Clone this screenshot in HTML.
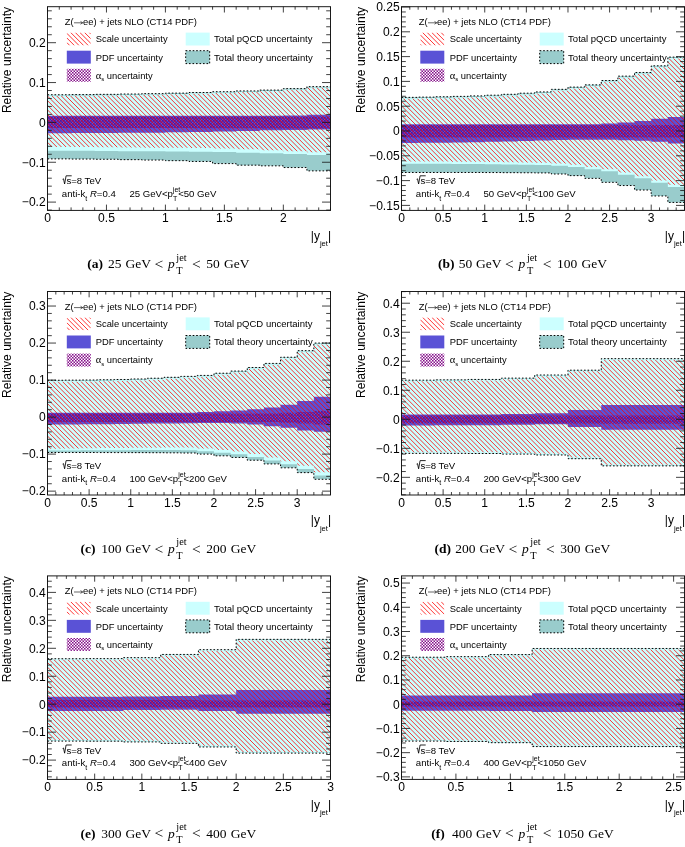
<!DOCTYPE html>
<html><head><meta charset="utf-8"><title>Figure</title>
<style>html,body{margin:0;padding:0;background:#fff}svg{display:block;will-change:transform}text{font-family:"Liberation Sans", sans-serif;fill:#000}.s{font-family:"Liberation Serif", serif}</style>
</head><body>
<svg width="685" height="847" viewBox="0 0 685 847">
<defs>
<pattern id="hr" patternUnits="userSpaceOnUse" width="4.630" height="4.630"><path d="M-4.630,-4.630 L9.260,9.260 M0,-4.630 L9.260,4.630 M-4.630,0 L4.630,9.260" stroke="#ff0000" stroke-width="1.1" stroke-opacity="0.95" fill="none"/></pattern>
<pattern id="ha" patternUnits="userSpaceOnUse" width="3.00" height="3.00"><path d="M0,0h1.55v1.55h-1.55z M1.50,1.50h1.55v1.55h-1.55z" fill="#85108a"/></pattern>
<pattern id="hb" patternUnits="userSpaceOnUse" width="3.00" height="3.00"><path d="M0,0h1.72v1.72h-1.72z M1.50,1.50h1.72v1.72h-1.72z" fill="#5c1096"/></pattern>
</defs>
<rect width="685" height="847" fill="#fff"/>
<g>
<path d="M47.50,94.78 L71.08,94.78 L71.08,94.58 L94.67,94.58 L94.67,94.35 L118.25,94.35 L118.25,94.03 L141.83,94.03 L141.83,93.63 L165.42,93.63 L165.42,93.11 L189.00,93.11 L189.00,92.51 L212.58,92.51 L212.58,91.72 L236.17,91.72 L236.17,90.92 L259.75,90.92 L259.75,90.08 L283.33,90.08 L283.33,88.61 L306.92,88.61 L306.92,86.65 L330.50,86.65 L330.50,170.86 L306.92,170.86 L306.92,167.55 L283.33,167.55 L283.33,165.84 L259.75,165.84 L259.75,165.16 L236.17,165.16 L236.17,163.60 L212.58,163.60 L212.58,161.45 L189.00,161.45 L189.00,160.66 L165.42,160.66 L165.42,160.06 L141.83,160.06 L141.83,159.66 L118.25,159.66 L118.25,159.26 L94.67,159.26 L94.67,159.06 L71.08,159.06 L71.08,158.86 L47.50,158.86Z" fill="#99cccc"/>
<path d="M47.50,95.58 L71.08,95.58 L71.08,95.38 L94.67,95.38 L94.67,95.14 L118.25,95.14 L118.25,94.82 L141.83,94.82 L141.83,94.43 L165.42,94.43 L165.42,93.91 L189.00,93.91 L189.00,93.31 L212.58,93.31 L212.58,92.51 L236.17,92.51 L236.17,91.72 L259.75,91.72 L259.75,90.88 L283.33,90.88 L283.33,89.40 L306.92,89.40 L306.92,87.45 L330.50,87.45 L330.50,154.88 L306.92,154.88 L306.92,154.08 L283.33,154.08 L283.33,153.28 L259.75,153.28 L259.75,152.69 L236.17,152.69 L236.17,152.09 L212.58,152.09 L212.58,151.69 L189.00,151.69 L189.00,151.49 L165.42,151.49 L165.42,151.37 L141.83,151.37 L141.83,151.17 L118.25,151.17 L118.25,151.01 L94.67,151.01 L94.67,150.85 L71.08,150.85 L71.08,150.69 L47.50,150.69Z" fill="#ccffff"/>
<path d="M47.50,115.78 L71.08,115.78 L71.08,115.78 L94.67,115.78 L94.67,115.78 L118.25,115.78 L118.25,115.78 L141.83,115.78 L141.83,115.78 L165.42,115.78 L165.42,115.78 L189.00,115.78 L189.00,115.78 L212.58,115.78 L212.58,115.78 L236.17,115.78 L236.17,115.78 L259.75,115.78 L259.75,115.78 L283.33,115.78 L283.33,115.43 L306.92,115.43 L306.92,114.83 L330.50,114.83 L330.50,129.57 L306.92,129.57 L306.92,129.97 L283.33,129.97 L283.33,130.37 L259.75,130.37 L259.75,130.97 L236.17,130.97 L236.17,131.57 L212.58,131.57 L212.58,131.96 L189.00,131.96 L189.00,132.36 L165.42,132.36 L165.42,132.68 L141.83,132.68 L141.83,132.84 L118.25,132.84 L118.25,132.96 L94.67,132.96 L94.67,133.08 L71.08,133.08 L71.08,133.16 L47.50,133.16Z" fill="#5a52d6"/>
<path d="M47.50,116.42 L71.08,116.42 L71.08,116.42 L94.67,116.42 L94.67,116.42 L118.25,116.42 L118.25,116.42 L141.83,116.42 L141.83,116.42 L165.42,116.42 L165.42,116.42 L189.00,116.42 L189.00,116.42 L212.58,116.42 L212.58,116.42 L236.17,116.42 L236.17,116.42 L259.75,116.42 L259.75,116.42 L283.33,116.42 L283.33,116.42 L306.92,116.42 L306.92,116.42 L330.50,116.42 L330.50,128.38 L306.92,128.38 L306.92,128.38 L283.33,128.38 L283.33,128.38 L259.75,128.38 L259.75,128.18 L236.17,128.18 L236.17,128.18 L212.58,128.18 L212.58,128.18 L189.00,128.18 L189.00,127.98 L165.42,127.98 L165.42,127.98 L141.83,127.98 L141.83,127.98 L118.25,127.98 L118.25,127.98 L94.67,127.98 L94.67,127.98 L71.08,127.98 L71.08,127.98 L47.50,127.98Z" fill="url(#hb)"/>
<clipPath id="cs0"><path d="M47.50,95.98 L71.08,95.98 L71.08,95.78 L94.67,95.78 L94.67,95.54 L118.25,95.54 L118.25,95.22 L141.83,95.22 L141.83,94.82 L165.42,94.82 L165.42,94.31 L189.00,94.31 L189.00,93.71 L212.58,93.71 L212.58,92.91 L236.17,92.91 L236.17,92.11 L259.75,92.11 L259.75,91.28 L283.33,91.28 L283.33,89.80 L306.92,89.80 L306.92,87.85 L330.50,87.85 L330.50,152.17 L306.92,152.17 L306.92,151.29 L283.33,151.29 L283.33,150.30 L259.75,150.30 L259.75,149.30 L236.17,149.30 L236.17,148.50 L212.58,148.50 L212.58,147.90 L189.00,147.90 L189.00,147.78 L165.42,147.78 L165.42,147.70 L141.83,147.70 L141.83,147.51 L118.25,147.51 L118.25,147.31 L94.67,147.31 L94.67,147.11 L71.08,147.11 L71.08,146.91 L47.50,146.91Z"/></clipPath>
<path clip-path="url(#cs0)" d="M47.50,151.57L49.10,153.17M47.50,146.94L53.73,153.17M47.50,142.31L58.36,153.17M47.50,137.68L62.99,153.17M47.50,133.05L67.62,153.17M47.50,128.42L72.25,153.17M47.50,123.79L76.88,153.17M47.50,119.16L81.51,153.17M47.50,114.53L86.14,153.17M47.50,109.90L90.77,153.17M47.50,105.27L95.40,153.17M47.50,100.64L100.03,153.17M47.50,96.01L104.66,153.17M47.50,91.38L109.29,153.17M47.60,86.85L113.92,153.17M52.23,86.85L118.55,153.17M56.86,86.85L123.18,153.17M61.49,86.85L127.81,153.17M66.12,86.85L132.44,153.17M70.75,86.85L137.07,153.17M75.38,86.85L141.70,153.17M80.01,86.85L146.33,153.17M84.64,86.85L150.96,153.17M89.27,86.85L155.59,153.17M93.90,86.85L160.22,153.17M98.53,86.85L164.85,153.17M103.16,86.85L169.48,153.17M107.79,86.85L174.11,153.17M112.42,86.85L178.74,153.17M117.05,86.85L183.37,153.17M121.68,86.85L188.00,153.17M126.31,86.85L192.63,153.17M130.94,86.85L197.26,153.17M135.57,86.85L201.89,153.17M140.20,86.85L206.52,153.17M144.83,86.85L211.15,153.17M149.46,86.85L215.78,153.17M154.09,86.85L220.41,153.17M158.72,86.85L225.04,153.17M163.35,86.85L229.67,153.17M167.98,86.85L234.30,153.17M172.61,86.85L238.93,153.17M177.24,86.85L243.56,153.17M181.87,86.85L248.19,153.17M186.50,86.85L252.82,153.17M191.13,86.85L257.45,153.17M195.76,86.85L262.08,153.17M200.39,86.85L266.71,153.17M205.02,86.85L271.34,153.17M209.65,86.85L275.97,153.17M214.28,86.85L280.60,153.17M218.91,86.85L285.23,153.17M223.54,86.85L289.86,153.17M228.17,86.85L294.49,153.17M232.80,86.85L299.12,153.17M237.43,86.85L303.75,153.17M242.06,86.85L308.38,153.17M246.69,86.85L313.01,153.17M251.32,86.85L317.64,153.17M255.95,86.85L322.27,153.17M260.58,86.85L326.90,153.17M265.21,86.85L330.50,152.14M269.84,86.85L330.50,147.51M274.47,86.85L330.50,142.88M279.10,86.85L330.50,138.25M283.73,86.85L330.50,133.62M288.36,86.85L330.50,128.99M292.99,86.85L330.50,124.36M297.62,86.85L330.50,119.73M302.25,86.85L330.50,115.10M306.88,86.85L330.50,110.47M311.51,86.85L330.50,105.84M316.14,86.85L330.50,101.21M320.77,86.85L330.50,96.58M325.40,86.85L330.50,91.95M330.03,86.85L330.50,87.32" stroke="#ff0000" stroke-width="0.95" stroke-opacity="0.84" fill="none"/>
<path d="M47.50,94.78 L71.08,94.78 L71.08,94.58 L94.67,94.58 L94.67,94.35 L118.25,94.35 L118.25,94.03 L141.83,94.03 L141.83,93.63 L165.42,93.63 L165.42,93.11 L189.00,93.11 L189.00,92.51 L212.58,92.51 L212.58,91.72 L236.17,91.72 L236.17,90.92 L259.75,90.92 L259.75,90.08 L283.33,90.08 L283.33,88.61 L306.92,88.61 L306.92,86.65 L330.50,86.65" stroke="#000" stroke-width="1" stroke-dasharray="1.6 1.9" fill="none"/>
<path d="M47.50,158.86 L71.08,158.86 L71.08,159.06 L94.67,159.06 L94.67,159.26 L118.25,159.26 L118.25,159.66 L141.83,159.66 L141.83,160.06 L165.42,160.06 L165.42,160.66 L189.00,160.66 L189.00,161.45 L212.58,161.45 L212.58,163.60 L236.17,163.60 L236.17,165.16 L259.75,165.16 L259.75,165.84 L283.33,165.84 L283.33,167.55 L306.92,167.55 L306.92,170.86 L330.50,170.86" stroke="#000" stroke-width="1" stroke-dasharray="1.6 1.9" fill="none"/>
<path d="M47.50,210.40 v-5.80 M47.50,6.70 v5.80 M59.29,210.40 v-3.00 M59.29,6.70 v3.00 M71.08,210.40 v-3.00 M71.08,6.70 v3.00 M82.88,210.40 v-3.00 M82.88,6.70 v3.00 M94.67,210.40 v-3.00 M94.67,6.70 v3.00 M106.46,210.40 v-5.80 M106.46,6.70 v5.80 M118.25,210.40 v-3.00 M118.25,6.70 v3.00 M130.04,210.40 v-3.00 M130.04,6.70 v3.00 M141.83,210.40 v-3.00 M141.83,6.70 v3.00 M153.62,210.40 v-3.00 M153.62,6.70 v3.00 M165.42,210.40 v-5.80 M165.42,6.70 v5.80 M177.21,210.40 v-3.00 M177.21,6.70 v3.00 M189.00,210.40 v-3.00 M189.00,6.70 v3.00 M200.79,210.40 v-3.00 M200.79,6.70 v3.00 M212.58,210.40 v-3.00 M212.58,6.70 v3.00 M224.38,210.40 v-5.80 M224.38,6.70 v5.80 M236.17,210.40 v-3.00 M236.17,6.70 v3.00 M247.96,210.40 v-3.00 M247.96,6.70 v3.00 M259.75,210.40 v-3.00 M259.75,6.70 v3.00 M271.54,210.40 v-3.00 M271.54,6.70 v3.00 M283.33,210.40 v-5.80 M283.33,6.70 v5.80 M295.12,210.40 v-3.00 M295.12,6.70 v3.00 M306.92,210.40 v-3.00 M306.92,6.70 v3.00 M318.71,210.40 v-3.00 M318.71,6.70 v3.00 M330.50,210.40 v-3.00 M330.50,6.70 v3.00 M47.50,210.07 h4.30 M330.50,210.07 h-4.30 M47.50,202.10 h8.50 M330.50,202.10 h-8.50 M47.50,194.13 h4.30 M330.50,194.13 h-4.30 M47.50,186.16 h4.30 M330.50,186.16 h-4.30 M47.50,178.19 h4.30 M330.50,178.19 h-4.30 M47.50,170.22 h4.30 M330.50,170.22 h-4.30 M47.50,162.25 h8.50 M330.50,162.25 h-8.50 M47.50,154.28 h4.30 M330.50,154.28 h-4.30 M47.50,146.31 h4.30 M330.50,146.31 h-4.30 M47.50,138.34 h4.30 M330.50,138.34 h-4.30 M47.50,130.37 h4.30 M330.50,130.37 h-4.30 M47.50,122.40 h8.50 M330.50,122.40 h-8.50 M47.50,114.43 h4.30 M330.50,114.43 h-4.30 M47.50,106.46 h4.30 M330.50,106.46 h-4.30 M47.50,98.49 h4.30 M330.50,98.49 h-4.30 M47.50,90.52 h4.30 M330.50,90.52 h-4.30 M47.50,82.55 h8.50 M330.50,82.55 h-8.50 M47.50,74.58 h4.30 M330.50,74.58 h-4.30 M47.50,66.61 h4.30 M330.50,66.61 h-4.30 M47.50,58.64 h4.30 M330.50,58.64 h-4.30 M47.50,50.67 h4.30 M330.50,50.67 h-4.30 M47.50,42.70 h8.50 M330.50,42.70 h-8.50 M47.50,34.73 h4.30 M330.50,34.73 h-4.30 M47.50,26.76 h4.30 M330.50,26.76 h-4.30 M47.50,18.79 h4.30 M330.50,18.79 h-4.30 M47.50,10.82 h4.30 M330.50,10.82 h-4.30" stroke="#111" stroke-width="0.8" fill="none"/>
<rect x="47.50" y="6.70" width="283.00" height="203.70" fill="none" stroke="#111" stroke-width="0.95"/>
<text x="45.70" y="47.00" font-size="12.1" text-anchor="end">0.2</text>
<text x="45.70" y="86.85" font-size="12.1" text-anchor="end">0.1</text>
<text x="45.70" y="126.70" font-size="12.1" text-anchor="end">0</text>
<text x="45.70" y="166.55" font-size="12.1" text-anchor="end">−0.1</text>
<text x="45.70" y="206.40" font-size="12.1" text-anchor="end">−0.2</text>
<text x="47.50" y="222.05" font-size="12.1" text-anchor="middle">0</text>
<text x="106.46" y="222.05" font-size="12.1" text-anchor="middle">0.5</text>
<text x="165.42" y="222.05" font-size="12.1" text-anchor="middle">1</text>
<text x="224.38" y="222.05" font-size="12.1" text-anchor="middle">1.5</text>
<text x="283.33" y="222.05" font-size="12.1" text-anchor="middle">2</text>
<text transform="translate(10.50,6.90) rotate(-90)" font-size="12.1" text-anchor="end">Relative uncertainty</text>
<text x="331.10" y="239.70" font-size="12" text-anchor="end">|y<tspan font-size="7.6" dy="6.6">jet</tspan><tspan dy="-6.6">|</tspan></text>
<text x="64.80" y="25.10" font-size="9.4">Z(</text>
<text x="83.10" y="25.10" font-size="9.4">ee) + jets NLO (CT14 PDF)</text>
<path d="M74.00,22.80 H82.70 M80.50,21.40 L82.70,22.80 L80.50,24.20" stroke="#000" stroke-width="0.6" fill="none"/>
<clipPath id="cl0"><rect x="66.80" y="32.60" width="24.00" height="12.90"/></clipPath>
<path clip-path="url(#cl0)" d="M66.80,42.54L69.76,45.50M66.80,37.91L74.39,45.50M66.80,33.28L79.02,45.50M70.75,32.60L83.65,45.50M75.38,32.60L88.28,45.50M80.01,32.60L90.80,43.39M84.64,32.60L90.80,38.76M89.27,32.60L90.80,34.13" stroke="#ff0000" stroke-width="0.95" stroke-opacity="0.84" fill="none"/>
<rect x="66.80" y="50.70" width="24.00" height="12.90" fill="#5a52d6"/>
<rect x="66.80" y="68.80" width="24.00" height="12.90" fill="url(#ha)"/>
<text x="95.70" y="42.40" font-size="9.4">Scale uncertainty</text>
<text x="95.70" y="60.50" font-size="9.4">PDF uncertainty</text>
<text x="95.70" y="78.60" font-size="9.4"><tspan class="s" font-size="10.5">α</tspan><tspan font-size="6" dy="2.2">s</tspan><tspan dy="-2.2"> uncertainty</tspan></text>
<rect x="185.70" y="32.60" width="24.00" height="12.90" fill="#ccffff"/>
<rect x="185.70" y="50.70" width="24.00" height="12.90" fill="#99cccc" stroke="#000" stroke-width="1" stroke-dasharray="1.6 1.9" />
<text x="214.10" y="42.40" font-size="9.4" textLength="98.3" lengthAdjust="spacingAndGlyphs">Total pQCD uncertainty</text>
<text x="214.10" y="60.50" font-size="9.4" textLength="98.6" lengthAdjust="spacingAndGlyphs">Total theory uncertainty</text>
<path d="M62.60,179.30 l0.9,-0.5 l1.1,5.2 l1.5,-8.2 h5.6" stroke="#000" stroke-width="0.85" fill="none"/>
<text x="66.40" y="184.30" font-size="9.6">s=8 TeV</text>
<text x="61.80" y="197.10" font-size="9.6">anti-k<tspan font-size="7" dy="3.4">t</tspan><tspan dy="-3.4"> </tspan><tspan font-style="italic">R</tspan>=0.4</text>
<text x="129.40" y="197.10" font-size="9.6">25 GeV&lt;p<tspan font-size="7" dy="3.6">T</tspan><tspan font-size="7" dy="-8.8" dx="-4.3">jet</tspan><tspan dy="5.2" dx="-2.1">&lt;50 GeV</tspan></text>
<text class="s" x="87.30" y="268.30" font-size="13.50" font-weight="bold">(a)</text>
<text class="s" x="108.10" y="268.30" font-size="13.50" >25</text>
<text class="s" x="125.40" y="268.30" font-size="13.50" >GeV</text>
<text class="s" x="154.50" y="268.90" font-size="15.50" >&lt;</text>
<text class="s" x="167.90" y="268.30" font-size="13.50" font-style="italic">p</text>
<text class="s" x="176.30" y="273.80" font-size="10.30" >T</text>
<text class="s" x="176.30" y="260.50" font-size="10.30" >jet</text>
<text class="s" x="192.10" y="268.90" font-size="15.50" >&lt;</text>
<text class="s" x="206.30" y="268.30" font-size="13.50" >50</text>
<text class="s" x="224.10" y="268.30" font-size="13.50" >GeV</text>
</g>
<g>
<path d="M401.50,97.37 L418.15,97.37 L418.15,97.12 L434.79,97.12 L434.79,96.78 L451.44,96.78 L451.44,96.38 L468.09,96.38 L468.09,95.88 L484.74,95.88 L484.74,95.19 L501.38,95.19 L501.38,94.30 L518.03,94.30 L518.03,93.20 L534.68,93.20 L534.68,91.92 L551.32,91.92 L551.32,89.34 L567.97,89.34 L567.97,87.10 L584.62,87.10 L584.62,84.87 L601.26,84.87 L601.26,80.51 L617.91,80.51 L617.91,76.14 L634.56,76.14 L634.56,72.47 L651.21,72.47 L651.21,65.83 L667.85,65.83 L667.85,57.10 L684.50,57.10 L684.50,202.42 L667.85,202.42 L667.85,195.98 L651.21,195.98 L651.21,190.02 L634.56,190.02 L634.56,185.56 L617.91,185.56 L617.91,182.34 L601.26,182.34 L601.26,178.37 L584.62,178.37 L584.62,175.64 L567.97,175.64 L567.97,174.00 L551.32,174.00 L551.32,172.91 L534.68,172.91 L534.68,172.76 L518.03,172.76 L518.03,172.66 L501.38,172.66 L501.38,172.56 L484.74,172.56 L484.74,172.47 L468.09,172.47 L468.09,172.47 L451.44,172.47 L451.44,172.47 L434.79,172.47 L434.79,172.47 L418.15,172.47 L418.15,172.47 L401.50,172.47Z" fill="#99cccc"/>
<path d="M401.50,98.36 L418.15,98.36 L418.15,98.12 L434.79,98.12 L434.79,97.77 L451.44,97.77 L451.44,97.37 L468.09,97.37 L468.09,96.88 L484.74,96.88 L484.74,96.18 L501.38,96.18 L501.38,95.29 L518.03,95.29 L518.03,94.20 L534.68,94.20 L534.68,92.91 L551.32,92.91 L551.32,90.33 L567.97,90.33 L567.97,88.10 L584.62,88.10 L584.62,85.86 L601.26,85.86 L601.26,81.50 L617.91,81.50 L617.91,77.13 L634.56,77.13 L634.56,73.46 L651.21,73.46 L651.21,66.82 L667.85,66.82 L667.85,58.09 L684.50,58.09 L684.50,187.05 L667.85,187.05 L667.85,182.78 L651.21,182.78 L651.21,178.37 L634.56,178.37 L634.56,174.65 L617.91,174.65 L617.91,171.37 L601.26,171.37 L601.26,169.19 L584.62,169.19 L584.62,167.01 L567.97,167.01 L567.97,165.72 L551.32,165.72 L551.32,164.98 L534.68,164.98 L534.68,164.63 L518.03,164.63 L518.03,164.43 L501.38,164.43 L501.38,164.23 L484.74,164.23 L484.74,164.08 L468.09,164.08 L468.09,163.93 L451.44,163.93 L451.44,163.84 L434.79,163.84 L434.79,163.74 L418.15,163.74 L418.15,163.74 L401.50,163.74Z" fill="#ccffff"/>
<path d="M401.50,124.30 L418.15,124.30 L418.15,124.30 L434.79,124.30 L434.79,124.30 L451.44,124.30 L451.44,124.30 L468.09,124.30 L468.09,124.30 L484.74,124.30 L484.74,124.30 L501.38,124.30 L501.38,124.30 L518.03,124.30 L518.03,124.30 L534.68,124.30 L534.68,124.30 L551.32,124.30 L551.32,124.30 L567.97,124.30 L567.97,124.30 L584.62,124.30 L584.62,124.30 L601.26,124.30 L601.26,123.56 L617.91,123.56 L617.91,122.57 L634.56,122.57 L634.56,121.08 L651.21,121.08 L651.21,118.80 L667.85,118.80 L667.85,117.11 L684.50,117.11 L684.50,143.40 L667.85,143.40 L667.85,141.81 L651.21,141.81 L651.21,140.72 L634.56,140.72 L634.56,140.18 L617.91,140.18 L617.91,139.73 L601.26,139.73 L601.26,139.63 L584.62,139.63 L584.62,139.73 L567.97,139.73 L567.97,140.03 L551.32,140.03 L551.32,140.42 L534.68,140.42 L534.68,140.92 L518.03,140.92 L518.03,141.42 L501.38,141.42 L501.38,141.81 L484.74,141.81 L484.74,142.16 L468.09,142.16 L468.09,142.41 L451.44,142.41 L451.44,142.66 L434.79,142.66 L434.79,142.80 L418.15,142.80 L418.15,142.90 L401.50,142.90Z" fill="#5a52d6"/>
<path d="M401.50,125.05 L418.15,125.05 L418.15,125.05 L434.79,125.05 L434.79,125.05 L451.44,125.05 L451.44,125.05 L468.09,125.05 L468.09,125.05 L484.74,125.05 L484.74,125.05 L501.38,125.05 L501.38,125.05 L518.03,125.05 L518.03,125.05 L534.68,125.05 L534.68,125.05 L551.32,125.05 L551.32,125.05 L567.97,125.05 L567.97,125.05 L584.62,125.05 L584.62,125.05 L601.26,125.05 L601.26,125.05 L617.91,125.05 L617.91,125.05 L634.56,125.05 L634.56,125.05 L651.21,125.05 L651.21,125.05 L667.85,125.05 L667.85,125.05 L684.50,125.05 L684.50,137.45 L667.85,137.45 L667.85,137.45 L651.21,137.45 L651.21,137.45 L634.56,137.45 L634.56,137.45 L617.91,137.45 L617.91,137.45 L601.26,137.45 L601.26,137.45 L584.62,137.45 L584.62,137.45 L567.97,137.45 L567.97,137.45 L551.32,137.45 L551.32,137.45 L534.68,137.45 L534.68,137.45 L518.03,137.45 L518.03,137.45 L501.38,137.45 L501.38,137.45 L484.74,137.45 L484.74,137.45 L468.09,137.45 L468.09,137.45 L451.44,137.45 L451.44,137.45 L434.79,137.45 L434.79,137.45 L418.15,137.45 L418.15,137.45 L401.50,137.45Z" fill="url(#hb)"/>
<clipPath id="cs1"><path d="M401.50,98.86 L418.15,98.86 L418.15,98.61 L434.79,98.61 L434.79,98.26 L451.44,98.26 L451.44,97.87 L468.09,97.87 L468.09,97.37 L484.74,97.37 L484.74,96.68 L501.38,96.68 L501.38,95.78 L518.03,95.78 L518.03,94.69 L534.68,94.69 L534.68,93.40 L551.32,93.40 L551.32,90.82 L567.97,90.82 L567.97,88.59 L584.62,88.59 L584.62,86.36 L601.26,86.36 L601.26,82.00 L617.91,82.00 L617.91,77.63 L634.56,77.63 L634.56,73.96 L651.21,73.96 L651.21,67.31 L667.85,67.31 L667.85,58.58 L684.50,58.58 L684.50,184.82 L667.85,184.82 L667.85,180.55 L651.21,180.55 L651.21,176.14 L634.56,176.14 L634.56,172.42 L617.91,172.42 L617.91,169.14 L601.26,169.14 L601.26,166.96 L584.62,166.96 L584.62,164.78 L567.97,164.78 L567.97,163.49 L551.32,163.49 L551.32,162.74 L534.68,162.74 L534.68,162.40 L518.03,162.40 L518.03,162.20 L501.38,162.20 L501.38,162.00 L484.74,162.00 L484.74,161.85 L468.09,161.85 L468.09,161.70 L451.44,161.70 L451.44,161.60 L434.79,161.60 L434.79,161.50 L418.15,161.50 L418.15,161.50 L401.50,161.50Z"/></clipPath>
<path clip-path="url(#cs1)" d="M401.50,184.61L402.70,185.82M401.50,179.98L407.33,185.82M401.50,175.35L411.96,185.82M401.50,170.72L416.59,185.82M401.50,166.09L421.22,185.82M401.50,161.46L425.85,185.82M401.50,156.83L430.48,185.82M401.50,152.20L435.11,185.82M401.50,147.57L439.74,185.82M401.50,142.94L444.37,185.82M401.50,138.31L449.00,185.82M401.50,133.68L453.63,185.82M401.50,129.05L458.26,185.82M401.50,124.42L462.89,185.82M401.50,119.79L467.52,185.82M401.50,115.16L472.15,185.82M401.50,110.53L476.78,185.82M401.50,105.90L481.41,185.82M401.50,101.27L486.04,185.82M401.50,96.64L490.67,185.82M401.50,92.01L495.30,185.82M401.50,87.38L499.93,185.82M401.50,82.75L504.56,185.82M401.50,78.12L509.19,185.82M401.50,73.49L513.82,185.82M401.50,68.86L518.45,185.82M401.50,64.23L523.08,185.82M401.50,59.60L527.71,185.82M404.11,57.58L532.34,185.82M408.74,57.58L536.97,185.82M413.37,57.58L541.60,185.82M418.00,57.58L546.23,185.82M422.63,57.58L550.86,185.82M427.26,57.58L555.49,185.82M431.89,57.58L560.12,185.82M436.52,57.58L564.75,185.82M441.15,57.58L569.38,185.82M445.78,57.58L574.01,185.82M450.41,57.58L578.64,185.82M455.04,57.58L583.27,185.82M459.67,57.58L587.90,185.82M464.30,57.58L592.53,185.82M468.93,57.58L597.16,185.82M473.56,57.58L601.79,185.82M478.19,57.58L606.42,185.82M482.82,57.58L611.05,185.82M487.45,57.58L615.68,185.82M492.08,57.58L620.31,185.82M496.71,57.58L624.94,185.82M501.34,57.58L629.57,185.82M505.97,57.58L634.20,185.82M510.60,57.58L638.83,185.82M515.23,57.58L643.46,185.82M519.86,57.58L648.09,185.82M524.49,57.58L652.72,185.82M529.12,57.58L657.35,185.82M533.75,57.58L661.98,185.82M538.38,57.58L666.61,185.82M543.01,57.58L671.24,185.82M547.64,57.58L675.87,185.82M552.27,57.58L680.50,185.82M556.90,57.58L684.50,185.18M561.53,57.58L684.50,180.55M566.16,57.58L684.50,175.92M570.79,57.58L684.50,171.29M575.42,57.58L684.50,166.66M580.05,57.58L684.50,162.03M584.68,57.58L684.50,157.40M589.31,57.58L684.50,152.77M593.94,57.58L684.50,148.14M598.57,57.58L684.50,143.51M603.20,57.58L684.50,138.88M607.83,57.58L684.50,134.25M612.46,57.58L684.50,129.62M617.09,57.58L684.50,124.99M621.72,57.58L684.50,120.36M626.35,57.58L684.50,115.73M630.98,57.58L684.50,111.10M635.61,57.58L684.50,106.47M640.24,57.58L684.50,101.84M644.87,57.58L684.50,97.21M649.50,57.58L684.50,92.58M654.13,57.58L684.50,87.95M658.76,57.58L684.50,83.32M663.39,57.58L684.50,78.69M668.02,57.58L684.50,74.06M672.65,57.58L684.50,69.43M677.28,57.58L684.50,64.80M681.91,57.58L684.50,60.17" stroke="#ff0000" stroke-width="0.95" stroke-opacity="0.84" fill="none"/>
<path d="M401.50,97.37 L418.15,97.37 L418.15,97.12 L434.79,97.12 L434.79,96.78 L451.44,96.78 L451.44,96.38 L468.09,96.38 L468.09,95.88 L484.74,95.88 L484.74,95.19 L501.38,95.19 L501.38,94.30 L518.03,94.30 L518.03,93.20 L534.68,93.20 L534.68,91.92 L551.32,91.92 L551.32,89.34 L567.97,89.34 L567.97,87.10 L584.62,87.10 L584.62,84.87 L601.26,84.87 L601.26,80.51 L617.91,80.51 L617.91,76.14 L634.56,76.14 L634.56,72.47 L651.21,72.47 L651.21,65.83 L667.85,65.83 L667.85,57.10 L684.50,57.10" stroke="#000" stroke-width="1" stroke-dasharray="1.6 1.9" fill="none"/>
<path d="M401.50,172.47 L418.15,172.47 L418.15,172.47 L434.79,172.47 L434.79,172.47 L451.44,172.47 L451.44,172.47 L468.09,172.47 L468.09,172.47 L484.74,172.47 L484.74,172.56 L501.38,172.56 L501.38,172.66 L518.03,172.66 L518.03,172.76 L534.68,172.76 L534.68,172.91 L551.32,172.91 L551.32,174.00 L567.97,174.00 L567.97,175.64 L584.62,175.64 L584.62,178.37 L601.26,178.37 L601.26,182.34 L617.91,182.34 L617.91,185.56 L634.56,185.56 L634.56,190.02 L651.21,190.02 L651.21,195.98 L667.85,195.98 L667.85,202.42 L684.50,202.42" stroke="#000" stroke-width="1" stroke-dasharray="1.6 1.9" fill="none"/>
<path d="M401.50,210.40 v-5.80 M401.50,6.70 v5.80 M409.82,210.40 v-3.00 M409.82,6.70 v3.00 M418.15,210.40 v-3.00 M418.15,6.70 v3.00 M426.47,210.40 v-3.00 M426.47,6.70 v3.00 M434.79,210.40 v-3.00 M434.79,6.70 v3.00 M443.12,210.40 v-5.80 M443.12,6.70 v5.80 M451.44,210.40 v-3.00 M451.44,6.70 v3.00 M459.76,210.40 v-3.00 M459.76,6.70 v3.00 M468.09,210.40 v-3.00 M468.09,6.70 v3.00 M476.41,210.40 v-3.00 M476.41,6.70 v3.00 M484.74,210.40 v-5.80 M484.74,6.70 v5.80 M493.06,210.40 v-3.00 M493.06,6.70 v3.00 M501.38,210.40 v-3.00 M501.38,6.70 v3.00 M509.71,210.40 v-3.00 M509.71,6.70 v3.00 M518.03,210.40 v-3.00 M518.03,6.70 v3.00 M526.35,210.40 v-5.80 M526.35,6.70 v5.80 M534.68,210.40 v-3.00 M534.68,6.70 v3.00 M543.00,210.40 v-3.00 M543.00,6.70 v3.00 M551.32,210.40 v-3.00 M551.32,6.70 v3.00 M559.65,210.40 v-3.00 M559.65,6.70 v3.00 M567.97,210.40 v-5.80 M567.97,6.70 v5.80 M576.29,210.40 v-3.00 M576.29,6.70 v3.00 M584.62,210.40 v-3.00 M584.62,6.70 v3.00 M592.94,210.40 v-3.00 M592.94,6.70 v3.00 M601.26,210.40 v-3.00 M601.26,6.70 v3.00 M609.59,210.40 v-5.80 M609.59,6.70 v5.80 M617.91,210.40 v-3.00 M617.91,6.70 v3.00 M626.24,210.40 v-3.00 M626.24,6.70 v3.00 M634.56,210.40 v-3.00 M634.56,6.70 v3.00 M642.88,210.40 v-3.00 M642.88,6.70 v3.00 M651.21,210.40 v-5.80 M651.21,6.70 v5.80 M659.53,210.40 v-3.00 M659.53,6.70 v3.00 M667.85,210.40 v-3.00 M667.85,6.70 v3.00 M676.18,210.40 v-3.00 M676.18,6.70 v3.00 M684.50,210.40 v-3.00 M684.50,6.70 v3.00 M401.50,210.36 h4.30 M684.50,210.36 h-4.30 M401.50,205.40 h8.50 M684.50,205.40 h-8.50 M401.50,200.44 h4.30 M684.50,200.44 h-4.30 M401.50,195.48 h4.30 M684.50,195.48 h-4.30 M401.50,190.52 h4.30 M684.50,190.52 h-4.30 M401.50,185.56 h4.30 M684.50,185.56 h-4.30 M401.50,180.60 h8.50 M684.50,180.60 h-8.50 M401.50,175.64 h4.30 M684.50,175.64 h-4.30 M401.50,170.68 h4.30 M684.50,170.68 h-4.30 M401.50,165.72 h4.30 M684.50,165.72 h-4.30 M401.50,160.76 h4.30 M684.50,160.76 h-4.30 M401.50,155.80 h8.50 M684.50,155.80 h-8.50 M401.50,150.84 h4.30 M684.50,150.84 h-4.30 M401.50,145.88 h4.30 M684.50,145.88 h-4.30 M401.50,140.92 h4.30 M684.50,140.92 h-4.30 M401.50,135.96 h4.30 M684.50,135.96 h-4.30 M401.50,131.00 h8.50 M684.50,131.00 h-8.50 M401.50,126.04 h4.30 M684.50,126.04 h-4.30 M401.50,121.08 h4.30 M684.50,121.08 h-4.30 M401.50,116.12 h4.30 M684.50,116.12 h-4.30 M401.50,111.16 h4.30 M684.50,111.16 h-4.30 M401.50,106.20 h8.50 M684.50,106.20 h-8.50 M401.50,101.24 h4.30 M684.50,101.24 h-4.30 M401.50,96.28 h4.30 M684.50,96.28 h-4.30 M401.50,91.32 h4.30 M684.50,91.32 h-4.30 M401.50,86.36 h4.30 M684.50,86.36 h-4.30 M401.50,81.40 h8.50 M684.50,81.40 h-8.50 M401.50,76.44 h4.30 M684.50,76.44 h-4.30 M401.50,71.48 h4.30 M684.50,71.48 h-4.30 M401.50,66.52 h4.30 M684.50,66.52 h-4.30 M401.50,61.56 h4.30 M684.50,61.56 h-4.30 M401.50,56.60 h8.50 M684.50,56.60 h-8.50 M401.50,51.64 h4.30 M684.50,51.64 h-4.30 M401.50,46.68 h4.30 M684.50,46.68 h-4.30 M401.50,41.72 h4.30 M684.50,41.72 h-4.30 M401.50,36.76 h4.30 M684.50,36.76 h-4.30 M401.50,31.80 h8.50 M684.50,31.80 h-8.50 M401.50,26.84 h4.30 M684.50,26.84 h-4.30 M401.50,21.88 h4.30 M684.50,21.88 h-4.30 M401.50,16.92 h4.30 M684.50,16.92 h-4.30 M401.50,11.96 h4.30 M684.50,11.96 h-4.30 M401.50,7.00 h8.50 M684.50,7.00 h-8.50" stroke="#111" stroke-width="0.8" fill="none"/>
<rect x="401.50" y="6.70" width="283.00" height="203.70" fill="none" stroke="#111" stroke-width="0.95"/>
<text x="399.70" y="11.30" font-size="12.1" text-anchor="end">0.25</text>
<text x="399.70" y="36.10" font-size="12.1" text-anchor="end">0.2</text>
<text x="399.70" y="60.90" font-size="12.1" text-anchor="end">0.15</text>
<text x="399.70" y="85.70" font-size="12.1" text-anchor="end">0.1</text>
<text x="399.70" y="110.50" font-size="12.1" text-anchor="end">0.05</text>
<text x="399.70" y="135.30" font-size="12.1" text-anchor="end">0</text>
<text x="399.70" y="160.10" font-size="12.1" text-anchor="end">−0.05</text>
<text x="399.70" y="184.90" font-size="12.1" text-anchor="end">−0.1</text>
<text x="399.70" y="209.70" font-size="12.1" text-anchor="end">−0.15</text>
<text x="401.50" y="222.05" font-size="12.1" text-anchor="middle">0</text>
<text x="443.12" y="222.05" font-size="12.1" text-anchor="middle">0.5</text>
<text x="484.74" y="222.05" font-size="12.1" text-anchor="middle">1</text>
<text x="526.35" y="222.05" font-size="12.1" text-anchor="middle">1.5</text>
<text x="567.97" y="222.05" font-size="12.1" text-anchor="middle">2</text>
<text x="609.59" y="222.05" font-size="12.1" text-anchor="middle">2.5</text>
<text x="651.21" y="222.05" font-size="12.1" text-anchor="middle">3</text>
<text transform="translate(364.50,6.90) rotate(-90)" font-size="12.1" text-anchor="end">Relative uncertainty</text>
<text x="685.10" y="239.70" font-size="12" text-anchor="end">|y<tspan font-size="7.6" dy="6.6">jet</tspan><tspan dy="-6.6">|</tspan></text>
<text x="418.80" y="25.10" font-size="9.4">Z(</text>
<text x="437.10" y="25.10" font-size="9.4">ee) + jets NLO (CT14 PDF)</text>
<path d="M428.00,22.80 H436.70 M434.50,21.40 L436.70,22.80 L434.50,24.20" stroke="#000" stroke-width="0.6" fill="none"/>
<clipPath id="cl1"><rect x="420.30" y="32.60" width="24.00" height="12.90"/></clipPath>
<path clip-path="url(#cl1)" d="M420.30,44.16L421.64,45.50M420.30,39.53L426.27,45.50M420.30,34.90L430.90,45.50M422.63,32.60L435.53,45.50M427.26,32.60L440.16,45.50M431.89,32.60L444.30,45.01M436.52,32.60L444.30,40.38M441.15,32.60L444.30,35.75" stroke="#ff0000" stroke-width="0.95" stroke-opacity="0.84" fill="none"/>
<rect x="420.30" y="50.70" width="24.00" height="12.90" fill="#5a52d6"/>
<rect x="420.30" y="68.80" width="24.00" height="12.90" fill="url(#ha)"/>
<text x="449.70" y="42.40" font-size="9.4">Scale uncertainty</text>
<text x="449.70" y="60.50" font-size="9.4">PDF uncertainty</text>
<text x="449.70" y="78.60" font-size="9.4"><tspan class="s" font-size="10.5">α</tspan><tspan font-size="6" dy="2.2">s</tspan><tspan dy="-2.2"> uncertainty</tspan></text>
<rect x="539.70" y="32.60" width="24.00" height="12.90" fill="#ccffff"/>
<rect x="539.70" y="50.70" width="24.00" height="12.90" fill="#99cccc" stroke="#000" stroke-width="1" stroke-dasharray="1.6 1.9" />
<text x="568.10" y="42.40" font-size="9.4" textLength="98.3" lengthAdjust="spacingAndGlyphs">Total pQCD uncertainty</text>
<text x="568.10" y="60.50" font-size="9.4" textLength="98.6" lengthAdjust="spacingAndGlyphs">Total theory uncertainty</text>
<path d="M416.60,179.30 l0.9,-0.5 l1.1,5.2 l1.5,-8.2 h5.6" stroke="#000" stroke-width="0.85" fill="none"/>
<text x="420.40" y="184.30" font-size="9.6">s=8 TeV</text>
<text x="415.80" y="197.10" font-size="9.6">anti-k<tspan font-size="7" dy="3.4">t</tspan><tspan dy="-3.4"> </tspan><tspan font-style="italic">R</tspan>=0.4</text>
<text x="483.40" y="197.10" font-size="9.6">50 GeV&lt;p<tspan font-size="7" dy="3.6">T</tspan><tspan font-size="7" dy="-8.8" dx="-4.3">jet</tspan><tspan dy="5.2" dx="-2.1">&lt;100 GeV</tspan></text>
<text class="s" x="437.92" y="268.30" font-size="13.50" font-weight="bold">(b)</text>
<text class="s" x="458.72" y="268.30" font-size="13.50" >50</text>
<text class="s" x="476.02" y="268.30" font-size="13.50" >GeV</text>
<text class="s" x="505.12" y="268.90" font-size="15.50" >&lt;</text>
<text class="s" x="518.52" y="268.30" font-size="13.50" font-style="italic">p</text>
<text class="s" x="526.92" y="273.80" font-size="10.30" >T</text>
<text class="s" x="526.92" y="260.50" font-size="10.30" >jet</text>
<text class="s" x="542.72" y="268.90" font-size="15.50" >&lt;</text>
<text class="s" x="556.92" y="268.30" font-size="13.50" >100</text>
<text class="s" x="581.47" y="268.30" font-size="13.50" >GeV</text>
</g>
<g>
<path d="M47.50,380.27 L64.15,380.27 L64.15,380.15 L80.79,380.15 L80.79,380.01 L97.44,380.01 L97.44,379.78 L114.09,379.78 L114.09,379.49 L130.74,379.49 L130.74,378.97 L147.38,378.97 L147.38,378.23 L164.03,378.23 L164.03,377.30 L180.68,377.30 L180.68,376.38 L197.32,376.38 L197.32,375.42 L213.97,375.42 L213.97,373.23 L230.62,373.23 L230.62,371.05 L247.26,371.05 L247.26,367.49 L263.91,367.49 L263.91,363.42 L280.56,363.42 L280.56,357.24 L297.21,357.24 L297.21,350.65 L313.85,350.65 L313.85,343.06 L330.50,343.06 L330.50,479.29 L313.85,479.29 L313.85,472.63 L297.21,472.63 L297.21,467.82 L280.56,467.82 L280.56,463.93 L263.91,463.93 L263.91,460.23 L247.26,460.23 L247.26,457.45 L230.62,457.45 L230.62,455.82 L213.97,455.82 L213.97,454.12 L197.32,454.12 L197.32,453.01 L180.68,453.01 L180.68,452.82 L164.03,452.82 L164.03,452.71 L147.38,452.71 L147.38,452.64 L130.74,452.64 L130.74,452.60 L114.09,452.60 L114.09,452.57 L97.44,452.57 L97.44,452.53 L80.79,452.53 L80.79,452.53 L64.15,452.53 L64.15,452.53 L47.50,452.53Z" fill="#99cccc"/>
<path d="M47.50,381.01 L64.15,381.01 L64.15,380.89 L80.79,380.89 L80.79,380.75 L97.44,380.75 L97.44,380.52 L114.09,380.52 L114.09,380.23 L130.74,380.23 L130.74,379.71 L147.38,379.71 L147.38,378.97 L164.03,378.97 L164.03,378.04 L180.68,378.04 L180.68,377.12 L197.32,377.12 L197.32,376.16 L213.97,376.16 L213.97,373.97 L230.62,373.97 L230.62,371.79 L247.26,371.79 L247.26,368.23 L263.91,368.23 L263.91,364.16 L280.56,364.16 L280.56,357.98 L297.21,357.98 L297.21,351.39 L313.85,351.39 L313.85,343.80 L330.50,343.80 L330.50,475.59 L313.85,475.59 L313.85,469.03 L297.21,469.03 L297.21,464.32 L280.56,464.32 L280.56,460.54 L263.91,460.54 L263.91,456.94 L247.26,456.94 L247.26,454.27 L230.62,454.27 L230.62,452.75 L213.97,452.75 L213.97,451.15 L197.32,451.15 L197.32,450.14 L180.68,450.14 L180.68,450.06 L164.03,450.06 L164.03,450.05 L147.38,450.05 L147.38,450.08 L130.74,450.08 L130.74,450.15 L114.09,450.15 L114.09,450.22 L97.44,450.22 L97.44,450.28 L80.79,450.28 L80.79,450.39 L64.15,450.39 L64.15,450.49 L47.50,450.49Z" fill="#ccffff"/>
<path d="M47.50,412.66 L64.15,412.66 L64.15,412.66 L80.79,412.66 L80.79,412.66 L97.44,412.66 L97.44,412.66 L114.09,412.66 L114.09,412.66 L130.74,412.66 L130.74,412.66 L147.38,412.66 L147.38,412.66 L164.03,412.66 L164.03,412.66 L180.68,412.66 L180.68,412.66 L197.32,412.66 L197.32,412.10 L213.97,412.10 L213.97,411.36 L230.62,411.36 L230.62,410.44 L247.26,410.44 L247.26,409.18 L263.91,409.18 L263.91,407.62 L280.56,407.62 L280.56,404.77 L297.21,404.77 L297.21,401.07 L313.85,401.07 L313.85,396.74 L330.50,396.74 L330.50,431.72 L313.85,431.72 L313.85,430.61 L297.21,430.61 L297.21,427.84 L280.56,427.84 L280.56,426.24 L263.91,426.24 L263.91,424.50 L247.26,424.50 L247.26,423.62 L230.62,423.62 L230.62,423.02 L213.97,423.02 L213.97,423.02 L197.32,423.02 L197.32,423.21 L180.68,423.21 L180.68,423.39 L164.03,423.39 L164.03,423.58 L147.38,423.58 L147.38,423.76 L130.74,423.76 L130.74,423.95 L114.09,423.95 L114.09,424.13 L97.44,424.13 L97.44,424.32 L80.79,424.32 L80.79,424.43 L64.15,424.43 L64.15,424.50 L47.50,424.50Z" fill="#5a52d6"/>
<path d="M47.50,413.40 L64.15,413.40 L64.15,413.40 L80.79,413.40 L80.79,413.40 L97.44,413.40 L97.44,413.40 L114.09,413.40 L114.09,413.40 L130.74,413.40 L130.74,413.40 L147.38,413.40 L147.38,413.40 L164.03,413.40 L164.03,413.40 L180.68,413.40 L180.68,413.40 L197.32,413.40 L197.32,413.40 L213.97,413.40 L213.97,413.40 L230.62,413.40 L230.62,413.40 L247.26,413.40 L247.26,413.40 L263.91,413.40 L263.91,413.40 L280.56,413.40 L280.56,412.66 L297.21,412.66 L297.21,411.92 L313.85,411.92 L313.85,410.92 L330.50,410.92 L330.50,424.50 L313.85,424.50 L313.85,423.58 L297.21,423.58 L297.21,422.65 L280.56,422.65 L280.56,421.91 L263.91,421.91 L263.91,421.91 L247.26,421.91 L247.26,421.91 L230.62,421.91 L230.62,421.91 L213.97,421.91 L213.97,421.91 L197.32,421.91 L197.32,421.91 L180.68,421.91 L180.68,421.91 L164.03,421.91 L164.03,421.91 L147.38,421.91 L147.38,421.91 L130.74,421.91 L130.74,421.91 L114.09,421.91 L114.09,421.91 L97.44,421.91 L97.44,421.91 L80.79,421.91 L80.79,421.91 L64.15,421.91 L64.15,421.91 L47.50,421.91Z" fill="url(#hb)"/>
<clipPath id="cs2"><path d="M47.50,381.75 L64.15,381.75 L64.15,381.63 L80.79,381.63 L80.79,381.49 L97.44,381.49 L97.44,381.26 L114.09,381.26 L114.09,380.97 L130.74,380.97 L130.74,380.45 L147.38,380.45 L147.38,379.71 L164.03,379.71 L164.03,378.78 L180.68,378.78 L180.68,377.86 L197.32,377.86 L197.32,376.90 L213.97,376.90 L213.97,374.71 L230.62,374.71 L230.62,372.53 L247.26,372.53 L247.26,368.97 L263.91,368.97 L263.91,364.90 L280.56,364.90 L280.56,358.72 L297.21,358.72 L297.21,352.13 L313.85,352.13 L313.85,344.54 L330.50,344.54 L330.50,472.26 L313.85,472.26 L313.85,465.79 L297.21,465.79 L297.21,461.18 L280.56,461.18 L280.56,457.49 L263.91,457.49 L263.91,453.98 L247.26,453.98 L247.26,451.40 L230.62,451.40 L230.62,449.97 L213.97,449.97 L213.97,448.46 L197.32,448.46 L197.32,447.55 L180.68,447.55 L180.68,447.56 L164.03,447.56 L164.03,447.65 L147.38,447.65 L147.38,447.77 L130.74,447.77 L130.74,447.93 L114.09,447.93 L114.09,448.09 L97.44,448.09 L97.44,448.25 L80.79,448.25 L80.79,448.44 L64.15,448.44 L64.15,448.64 L47.50,448.64Z"/></clipPath>
<path clip-path="url(#cs2)" d="M47.50,473.08L47.68,473.26M47.50,468.45L52.31,473.26M47.50,463.82L56.94,473.26M47.50,459.19L61.57,473.26M47.50,454.56L66.20,473.26M47.50,449.93L70.83,473.26M47.50,445.30L75.46,473.26M47.50,440.67L80.09,473.26M47.50,436.04L84.72,473.26M47.50,431.41L89.35,473.26M47.50,426.78L93.98,473.26M47.50,422.15L98.61,473.26M47.50,417.52L103.24,473.26M47.50,412.89L107.87,473.26M47.50,408.26L112.50,473.26M47.50,403.63L117.13,473.26M47.50,399.00L121.76,473.26M47.50,394.37L126.39,473.26M47.50,389.74L131.02,473.26M47.50,385.11L135.65,473.26M47.50,380.48L140.28,473.26M47.50,375.85L144.91,473.26M47.50,371.22L149.54,473.26M47.50,366.59L154.17,473.26M47.50,361.96L158.80,473.26M47.50,357.33L163.43,473.26M47.50,352.70L168.06,473.26M47.50,348.07L172.69,473.26M47.60,343.54L177.32,473.26M52.23,343.54L181.95,473.26M56.86,343.54L186.58,473.26M61.49,343.54L191.21,473.26M66.12,343.54L195.84,473.26M70.75,343.54L200.47,473.26M75.38,343.54L205.10,473.26M80.01,343.54L209.73,473.26M84.64,343.54L214.36,473.26M89.27,343.54L218.99,473.26M93.90,343.54L223.62,473.26M98.53,343.54L228.25,473.26M103.16,343.54L232.88,473.26M107.79,343.54L237.51,473.26M112.42,343.54L242.14,473.26M117.05,343.54L246.77,473.26M121.68,343.54L251.40,473.26M126.31,343.54L256.03,473.26M130.94,343.54L260.66,473.26M135.57,343.54L265.29,473.26M140.20,343.54L269.92,473.26M144.83,343.54L274.55,473.26M149.46,343.54L279.18,473.26M154.09,343.54L283.81,473.26M158.72,343.54L288.44,473.26M163.35,343.54L293.07,473.26M167.98,343.54L297.70,473.26M172.61,343.54L302.33,473.26M177.24,343.54L306.96,473.26M181.87,343.54L311.59,473.26M186.50,343.54L316.22,473.26M191.13,343.54L320.85,473.26M195.76,343.54L325.48,473.26M200.39,343.54L330.11,473.26M205.02,343.54L330.50,469.02M209.65,343.54L330.50,464.39M214.28,343.54L330.50,459.76M218.91,343.54L330.50,455.13M223.54,343.54L330.50,450.50M228.17,343.54L330.50,445.87M232.80,343.54L330.50,441.24M237.43,343.54L330.50,436.61M242.06,343.54L330.50,431.98M246.69,343.54L330.50,427.35M251.32,343.54L330.50,422.72M255.95,343.54L330.50,418.09M260.58,343.54L330.50,413.46M265.21,343.54L330.50,408.83M269.84,343.54L330.50,404.20M274.47,343.54L330.50,399.57M279.10,343.54L330.50,394.94M283.73,343.54L330.50,390.31M288.36,343.54L330.50,385.68M292.99,343.54L330.50,381.05M297.62,343.54L330.50,376.42M302.25,343.54L330.50,371.79M306.88,343.54L330.50,367.16M311.51,343.54L330.50,362.53M316.14,343.54L330.50,357.90M320.77,343.54L330.50,353.27M325.40,343.54L330.50,348.64M330.03,343.54L330.50,344.01" stroke="#ff0000" stroke-width="0.95" stroke-opacity="0.84" fill="none"/>
<path d="M47.50,380.27 L64.15,380.27 L64.15,380.15 L80.79,380.15 L80.79,380.01 L97.44,380.01 L97.44,379.78 L114.09,379.78 L114.09,379.49 L130.74,379.49 L130.74,378.97 L147.38,378.97 L147.38,378.23 L164.03,378.23 L164.03,377.30 L180.68,377.30 L180.68,376.38 L197.32,376.38 L197.32,375.42 L213.97,375.42 L213.97,373.23 L230.62,373.23 L230.62,371.05 L247.26,371.05 L247.26,367.49 L263.91,367.49 L263.91,363.42 L280.56,363.42 L280.56,357.24 L297.21,357.24 L297.21,350.65 L313.85,350.65 L313.85,343.06 L330.50,343.06" stroke="#000" stroke-width="1" stroke-dasharray="1.6 1.9" fill="none"/>
<path d="M47.50,452.53 L64.15,452.53 L64.15,452.53 L80.79,452.53 L80.79,452.53 L97.44,452.53 L97.44,452.57 L114.09,452.57 L114.09,452.60 L130.74,452.60 L130.74,452.64 L147.38,452.64 L147.38,452.71 L164.03,452.71 L164.03,452.82 L180.68,452.82 L180.68,453.01 L197.32,453.01 L197.32,454.12 L213.97,454.12 L213.97,455.82 L230.62,455.82 L230.62,457.45 L247.26,457.45 L247.26,460.23 L263.91,460.23 L263.91,463.93 L280.56,463.93 L280.56,467.82 L297.21,467.82 L297.21,472.63 L313.85,472.63 L313.85,479.29 L330.50,479.29" stroke="#000" stroke-width="1" stroke-dasharray="1.6 1.9" fill="none"/>
<path d="M47.50,495.00 v-5.80 M47.50,291.50 v5.80 M55.82,495.00 v-3.00 M55.82,291.50 v3.00 M64.15,495.00 v-3.00 M64.15,291.50 v3.00 M72.47,495.00 v-3.00 M72.47,291.50 v3.00 M80.79,495.00 v-3.00 M80.79,291.50 v3.00 M89.12,495.00 v-5.80 M89.12,291.50 v5.80 M97.44,495.00 v-3.00 M97.44,291.50 v3.00 M105.76,495.00 v-3.00 M105.76,291.50 v3.00 M114.09,495.00 v-3.00 M114.09,291.50 v3.00 M122.41,495.00 v-3.00 M122.41,291.50 v3.00 M130.74,495.00 v-5.80 M130.74,291.50 v5.80 M139.06,495.00 v-3.00 M139.06,291.50 v3.00 M147.38,495.00 v-3.00 M147.38,291.50 v3.00 M155.71,495.00 v-3.00 M155.71,291.50 v3.00 M164.03,495.00 v-3.00 M164.03,291.50 v3.00 M172.35,495.00 v-5.80 M172.35,291.50 v5.80 M180.68,495.00 v-3.00 M180.68,291.50 v3.00 M189.00,495.00 v-3.00 M189.00,291.50 v3.00 M197.32,495.00 v-3.00 M197.32,291.50 v3.00 M205.65,495.00 v-3.00 M205.65,291.50 v3.00 M213.97,495.00 v-5.80 M213.97,291.50 v5.80 M222.29,495.00 v-3.00 M222.29,291.50 v3.00 M230.62,495.00 v-3.00 M230.62,291.50 v3.00 M238.94,495.00 v-3.00 M238.94,291.50 v3.00 M247.26,495.00 v-3.00 M247.26,291.50 v3.00 M255.59,495.00 v-5.80 M255.59,291.50 v5.80 M263.91,495.00 v-3.00 M263.91,291.50 v3.00 M272.24,495.00 v-3.00 M272.24,291.50 v3.00 M280.56,495.00 v-3.00 M280.56,291.50 v3.00 M288.88,495.00 v-3.00 M288.88,291.50 v3.00 M297.21,495.00 v-5.80 M297.21,291.50 v5.80 M305.53,495.00 v-3.00 M305.53,291.50 v3.00 M313.85,495.00 v-3.00 M313.85,291.50 v3.00 M322.18,495.00 v-3.00 M322.18,291.50 v3.00 M330.50,495.00 v-3.00 M330.50,291.50 v3.00 M47.50,491.14 h8.50 M330.50,491.14 h-8.50 M47.50,483.74 h4.30 M330.50,483.74 h-4.30 M47.50,476.33 h4.30 M330.50,476.33 h-4.30 M47.50,468.93 h4.30 M330.50,468.93 h-4.30 M47.50,461.52 h4.30 M330.50,461.52 h-4.30 M47.50,454.12 h8.50 M330.50,454.12 h-8.50 M47.50,446.72 h4.30 M330.50,446.72 h-4.30 M47.50,439.31 h4.30 M330.50,439.31 h-4.30 M47.50,431.91 h4.30 M330.50,431.91 h-4.30 M47.50,424.50 h4.30 M330.50,424.50 h-4.30 M47.50,417.10 h8.50 M330.50,417.10 h-8.50 M47.50,409.70 h4.30 M330.50,409.70 h-4.30 M47.50,402.29 h4.30 M330.50,402.29 h-4.30 M47.50,394.89 h4.30 M330.50,394.89 h-4.30 M47.50,387.48 h4.30 M330.50,387.48 h-4.30 M47.50,380.08 h8.50 M330.50,380.08 h-8.50 M47.50,372.68 h4.30 M330.50,372.68 h-4.30 M47.50,365.27 h4.30 M330.50,365.27 h-4.30 M47.50,357.87 h4.30 M330.50,357.87 h-4.30 M47.50,350.46 h4.30 M330.50,350.46 h-4.30 M47.50,343.06 h8.50 M330.50,343.06 h-8.50 M47.50,335.66 h4.30 M330.50,335.66 h-4.30 M47.50,328.25 h4.30 M330.50,328.25 h-4.30 M47.50,320.85 h4.30 M330.50,320.85 h-4.30 M47.50,313.44 h4.30 M330.50,313.44 h-4.30 M47.50,306.04 h8.50 M330.50,306.04 h-8.50 M47.50,298.64 h4.30 M330.50,298.64 h-4.30" stroke="#111" stroke-width="0.8" fill="none"/>
<rect x="47.50" y="291.50" width="283.00" height="203.50" fill="none" stroke="#111" stroke-width="0.95"/>
<text x="45.70" y="310.34" font-size="12.1" text-anchor="end">0.3</text>
<text x="45.70" y="347.36" font-size="12.1" text-anchor="end">0.2</text>
<text x="45.70" y="384.38" font-size="12.1" text-anchor="end">0.1</text>
<text x="45.70" y="421.40" font-size="12.1" text-anchor="end">0</text>
<text x="45.70" y="458.42" font-size="12.1" text-anchor="end">−0.1</text>
<text x="45.70" y="495.44" font-size="12.1" text-anchor="end">−0.2</text>
<text x="47.50" y="506.75" font-size="12.1" text-anchor="middle">0</text>
<text x="89.12" y="506.75" font-size="12.1" text-anchor="middle">0.5</text>
<text x="130.74" y="506.75" font-size="12.1" text-anchor="middle">1</text>
<text x="172.35" y="506.75" font-size="12.1" text-anchor="middle">1.5</text>
<text x="213.97" y="506.75" font-size="12.1" text-anchor="middle">2</text>
<text x="255.59" y="506.75" font-size="12.1" text-anchor="middle">2.5</text>
<text x="297.21" y="506.75" font-size="12.1" text-anchor="middle">3</text>
<text transform="translate(10.50,291.70) rotate(-90)" font-size="12.1" text-anchor="end">Relative uncertainty</text>
<text x="331.10" y="524.30" font-size="12" text-anchor="end">|y<tspan font-size="7.6" dy="6.6">jet</tspan><tspan dy="-6.6">|</tspan></text>
<text x="64.80" y="309.90" font-size="9.4">Z(</text>
<text x="83.10" y="309.90" font-size="9.4">ee) + jets NLO (CT14 PDF)</text>
<path d="M74.00,307.60 H82.70 M80.50,306.20 L82.70,307.60 L80.50,309.00" stroke="#000" stroke-width="0.6" fill="none"/>
<clipPath id="cl2"><rect x="66.80" y="317.40" width="24.00" height="12.90"/></clipPath>
<path clip-path="url(#cl2)" d="M66.80,327.34L69.76,330.30M66.80,322.71L74.39,330.30M66.80,318.08L79.02,330.30M70.75,317.40L83.65,330.30M75.38,317.40L88.28,330.30M80.01,317.40L90.80,328.19M84.64,317.40L90.80,323.56M89.27,317.40L90.80,318.93" stroke="#ff0000" stroke-width="0.95" stroke-opacity="0.84" fill="none"/>
<rect x="66.80" y="335.50" width="24.00" height="12.90" fill="#5a52d6"/>
<rect x="66.80" y="353.60" width="24.00" height="12.90" fill="url(#ha)"/>
<text x="95.70" y="327.20" font-size="9.4">Scale uncertainty</text>
<text x="95.70" y="345.30" font-size="9.4">PDF uncertainty</text>
<text x="95.70" y="363.40" font-size="9.4"><tspan class="s" font-size="10.5">α</tspan><tspan font-size="6" dy="2.2">s</tspan><tspan dy="-2.2"> uncertainty</tspan></text>
<rect x="185.70" y="317.40" width="24.00" height="12.90" fill="#ccffff"/>
<rect x="185.70" y="335.50" width="24.00" height="12.90" fill="#99cccc" stroke="#000" stroke-width="1" stroke-dasharray="1.6 1.9" />
<text x="214.10" y="327.20" font-size="9.4" textLength="98.3" lengthAdjust="spacingAndGlyphs">Total pQCD uncertainty</text>
<text x="214.10" y="345.30" font-size="9.4" textLength="98.6" lengthAdjust="spacingAndGlyphs">Total theory uncertainty</text>
<path d="M62.60,464.10 l0.9,-0.5 l1.1,5.2 l1.5,-8.2 h5.6" stroke="#000" stroke-width="0.85" fill="none"/>
<text x="66.40" y="469.10" font-size="9.6">s=8 TeV</text>
<text x="61.80" y="481.90" font-size="9.6">anti-k<tspan font-size="7" dy="3.4">t</tspan><tspan dy="-3.4"> </tspan><tspan font-style="italic">R</tspan>=0.4</text>
<text x="129.40" y="481.90" font-size="9.6">100 GeV&lt;p<tspan font-size="7" dy="3.6">T</tspan><tspan font-size="7" dy="-8.8" dx="-4.3">jet</tspan><tspan dy="5.2" dx="-2.1">&lt;200 GeV</tspan></text>
<text class="s" x="80.55" y="553.10" font-size="13.50" font-weight="bold">(c)</text>
<text class="s" x="101.35" y="553.10" font-size="13.50" >100</text>
<text class="s" x="125.40" y="553.10" font-size="13.50" >GeV</text>
<text class="s" x="154.50" y="553.70" font-size="15.50" >&lt;</text>
<text class="s" x="167.90" y="553.10" font-size="13.50" font-style="italic">p</text>
<text class="s" x="176.30" y="558.60" font-size="10.30" >T</text>
<text class="s" x="176.30" y="545.30" font-size="10.30" >jet</text>
<text class="s" x="192.10" y="553.70" font-size="15.50" >&lt;</text>
<text class="s" x="206.30" y="553.10" font-size="13.50" >200</text>
<text class="s" x="230.85" y="553.10" font-size="13.50" >GeV</text>
</g>
<g>
<path d="M401.50,380.16 L434.79,380.16 L434.79,379.87 L468.09,379.87 L468.09,379.44 L501.38,379.44 L501.38,378.13 L534.68,378.13 L534.68,375.02 L567.97,375.02 L567.97,370.20 L601.26,370.20 L601.26,358.67 L684.50,358.67 L684.50,465.86 L601.26,465.86 L601.26,458.69 L567.97,458.69 L567.97,454.97 L534.68,454.97 L534.68,454.10 L501.38,454.10 L501.38,453.51 L468.09,453.51 L468.09,453.37 L434.79,453.37 L434.79,453.37 L401.50,453.37Z" fill="#99cccc"/>
<path d="M401.50,380.45 L434.79,380.45 L434.79,380.16 L468.09,380.16 L468.09,379.73 L501.38,379.73 L501.38,378.42 L534.68,378.42 L534.68,375.31 L567.97,375.31 L567.97,370.49 L601.26,370.49 L601.26,358.96 L684.50,358.96 L684.50,465.57 L601.26,465.57 L601.26,458.40 L567.97,458.40 L567.97,454.68 L534.68,454.68 L534.68,453.81 L501.38,453.81 L501.38,453.22 L468.09,453.22 L468.09,453.08 L434.79,453.08 L434.79,453.08 L401.50,453.08Z" fill="#ccffff"/>
<path d="M401.50,414.44 L434.79,414.44 L434.79,414.44 L468.09,414.44 L468.09,414.44 L501.38,414.44 L501.38,414.01 L534.68,414.01 L534.68,413.37 L567.97,413.37 L567.97,410.09 L601.26,410.09 L601.26,405.03 L684.50,405.03 L684.50,429.78 L601.26,429.78 L601.26,426.93 L567.97,426.93 L567.97,424.32 L534.68,424.32 L534.68,424.76 L501.38,424.76 L501.38,425.19 L468.09,425.19 L468.09,425.34 L434.79,425.34 L434.79,425.39 L401.50,425.39Z" fill="#5a52d6"/>
<path d="M401.50,415.52 L434.79,415.52 L434.79,415.52 L468.09,415.52 L468.09,415.52 L501.38,415.52 L501.38,415.52 L534.68,415.52 L534.68,415.52 L567.97,415.52 L567.97,415.52 L601.26,415.52 L601.26,415.52 L684.50,415.52 L684.50,423.65 L601.26,423.65 L601.26,423.45 L567.97,423.45 L567.97,423.16 L534.68,423.16 L534.68,423.16 L501.38,423.16 L501.38,423.16 L468.09,423.16 L468.09,423.16 L434.79,423.16 L434.79,423.16 L401.50,423.16Z" fill="url(#hb)"/>
<clipPath id="cs3"><path d="M401.50,381.33 L434.79,381.33 L434.79,381.04 L468.09,381.04 L468.09,380.60 L501.38,380.60 L501.38,379.29 L534.68,379.29 L534.68,376.18 L567.97,376.18 L567.97,371.36 L601.26,371.36 L601.26,359.83 L684.50,359.83 L684.50,464.70 L601.26,464.70 L601.26,457.52 L567.97,457.52 L567.97,453.81 L534.68,453.81 L534.68,452.93 L501.38,452.93 L501.38,452.35 L468.09,452.35 L468.09,452.21 L434.79,452.21 L434.79,452.21 L401.50,452.21Z"/></clipPath>
<path clip-path="url(#cs3)" d="M401.50,462.71L404.49,465.70M401.50,458.08L409.12,465.70M401.50,453.45L413.75,465.70M401.50,448.82L418.38,465.70M401.50,444.19L423.01,465.70M401.50,439.56L427.64,465.70M401.50,434.93L432.27,465.70M401.50,430.30L436.90,465.70M401.50,425.67L441.53,465.70M401.50,421.04L446.16,465.70M401.50,416.41L450.79,465.70M401.50,411.78L455.42,465.70M401.50,407.15L460.05,465.70M401.50,402.52L464.68,465.70M401.50,397.89L469.31,465.70M401.50,393.26L473.94,465.70M401.50,388.63L478.57,465.70M401.50,384.00L483.20,465.70M401.50,379.37L487.83,465.70M401.50,374.74L492.46,465.70M401.50,370.11L497.09,465.70M401.50,365.48L501.72,465.70M401.50,360.85L506.35,465.70M404.11,358.83L510.98,465.70M408.74,358.83L515.61,465.70M413.37,358.83L520.24,465.70M418.00,358.83L524.87,465.70M422.63,358.83L529.50,465.70M427.26,358.83L534.13,465.70M431.89,358.83L538.76,465.70M436.52,358.83L543.39,465.70M441.15,358.83L548.02,465.70M445.78,358.83L552.65,465.70M450.41,358.83L557.28,465.70M455.04,358.83L561.91,465.70M459.67,358.83L566.54,465.70M464.30,358.83L571.17,465.70M468.93,358.83L575.80,465.70M473.56,358.83L580.43,465.70M478.19,358.83L585.06,465.70M482.82,358.83L589.69,465.70M487.45,358.83L594.32,465.70M492.08,358.83L598.95,465.70M496.71,358.83L603.58,465.70M501.34,358.83L608.21,465.70M505.97,358.83L612.84,465.70M510.60,358.83L617.47,465.70M515.23,358.83L622.10,465.70M519.86,358.83L626.73,465.70M524.49,358.83L631.36,465.70M529.12,358.83L635.99,465.70M533.75,358.83L640.62,465.70M538.38,358.83L645.25,465.70M543.01,358.83L649.88,465.70M547.64,358.83L654.51,465.70M552.27,358.83L659.14,465.70M556.90,358.83L663.77,465.70M561.53,358.83L668.40,465.70M566.16,358.83L673.03,465.70M570.79,358.83L677.66,465.70M575.42,358.83L682.29,465.70M580.05,358.83L684.50,463.28M584.68,358.83L684.50,458.65M589.31,358.83L684.50,454.02M593.94,358.83L684.50,449.39M598.57,358.83L684.50,444.76M603.20,358.83L684.50,440.13M607.83,358.83L684.50,435.50M612.46,358.83L684.50,430.87M617.09,358.83L684.50,426.24M621.72,358.83L684.50,421.61M626.35,358.83L684.50,416.98M630.98,358.83L684.50,412.35M635.61,358.83L684.50,407.72M640.24,358.83L684.50,403.09M644.87,358.83L684.50,398.46M649.50,358.83L684.50,393.83M654.13,358.83L684.50,389.20M658.76,358.83L684.50,384.57M663.39,358.83L684.50,379.94M668.02,358.83L684.50,375.31M672.65,358.83L684.50,370.68M677.28,358.83L684.50,366.05M681.91,358.83L684.50,361.42" stroke="#ff0000" stroke-width="0.95" stroke-opacity="0.84" fill="none"/>
<path d="M401.50,380.16 L434.79,380.16 L434.79,379.87 L468.09,379.87 L468.09,379.44 L501.38,379.44 L501.38,378.13 L534.68,378.13 L534.68,375.02 L567.97,375.02 L567.97,370.20 L601.26,370.20 L601.26,358.67 L684.50,358.67" stroke="#000" stroke-width="1" stroke-dasharray="1.6 1.9" fill="none"/>
<path d="M401.50,453.37 L434.79,453.37 L434.79,453.37 L468.09,453.37 L468.09,453.51 L501.38,453.51 L501.38,454.10 L534.68,454.10 L534.68,454.97 L567.97,454.97 L567.97,458.69 L601.26,458.69 L601.26,465.86 L684.50,465.86" stroke="#000" stroke-width="1" stroke-dasharray="1.6 1.9" fill="none"/>
<path d="M401.50,495.00 v-5.80 M401.50,291.50 v5.80 M409.82,495.00 v-3.00 M409.82,291.50 v3.00 M418.15,495.00 v-3.00 M418.15,291.50 v3.00 M426.47,495.00 v-3.00 M426.47,291.50 v3.00 M434.79,495.00 v-3.00 M434.79,291.50 v3.00 M443.12,495.00 v-5.80 M443.12,291.50 v5.80 M451.44,495.00 v-3.00 M451.44,291.50 v3.00 M459.76,495.00 v-3.00 M459.76,291.50 v3.00 M468.09,495.00 v-3.00 M468.09,291.50 v3.00 M476.41,495.00 v-3.00 M476.41,291.50 v3.00 M484.74,495.00 v-5.80 M484.74,291.50 v5.80 M493.06,495.00 v-3.00 M493.06,291.50 v3.00 M501.38,495.00 v-3.00 M501.38,291.50 v3.00 M509.71,495.00 v-3.00 M509.71,291.50 v3.00 M518.03,495.00 v-3.00 M518.03,291.50 v3.00 M526.35,495.00 v-5.80 M526.35,291.50 v5.80 M534.68,495.00 v-3.00 M534.68,291.50 v3.00 M543.00,495.00 v-3.00 M543.00,291.50 v3.00 M551.32,495.00 v-3.00 M551.32,291.50 v3.00 M559.65,495.00 v-3.00 M559.65,291.50 v3.00 M567.97,495.00 v-5.80 M567.97,291.50 v5.80 M576.29,495.00 v-3.00 M576.29,291.50 v3.00 M584.62,495.00 v-3.00 M584.62,291.50 v3.00 M592.94,495.00 v-3.00 M592.94,291.50 v3.00 M601.26,495.00 v-3.00 M601.26,291.50 v3.00 M609.59,495.00 v-5.80 M609.59,291.50 v5.80 M617.91,495.00 v-3.00 M617.91,291.50 v3.00 M626.24,495.00 v-3.00 M626.24,291.50 v3.00 M634.56,495.00 v-3.00 M634.56,291.50 v3.00 M642.88,495.00 v-3.00 M642.88,291.50 v3.00 M651.21,495.00 v-5.80 M651.21,291.50 v5.80 M659.53,495.00 v-3.00 M659.53,291.50 v3.00 M667.85,495.00 v-3.00 M667.85,291.50 v3.00 M676.18,495.00 v-3.00 M676.18,291.50 v3.00 M684.50,495.00 v-3.00 M684.50,291.50 v3.00 M401.50,494.75 h4.30 M684.50,494.75 h-4.30 M401.50,488.95 h4.30 M684.50,488.95 h-4.30 M401.50,483.14 h4.30 M684.50,483.14 h-4.30 M401.50,477.34 h8.50 M684.50,477.34 h-8.50 M401.50,471.54 h4.30 M684.50,471.54 h-4.30 M401.50,465.73 h4.30 M684.50,465.73 h-4.30 M401.50,459.93 h4.30 M684.50,459.93 h-4.30 M401.50,454.12 h4.30 M684.50,454.12 h-4.30 M401.50,448.32 h8.50 M684.50,448.32 h-8.50 M401.50,442.52 h4.30 M684.50,442.52 h-4.30 M401.50,436.71 h4.30 M684.50,436.71 h-4.30 M401.50,430.91 h4.30 M684.50,430.91 h-4.30 M401.50,425.10 h4.30 M684.50,425.10 h-4.30 M401.50,419.30 h8.50 M684.50,419.30 h-8.50 M401.50,413.50 h4.30 M684.50,413.50 h-4.30 M401.50,407.69 h4.30 M684.50,407.69 h-4.30 M401.50,401.89 h4.30 M684.50,401.89 h-4.30 M401.50,396.08 h4.30 M684.50,396.08 h-4.30 M401.50,390.28 h8.50 M684.50,390.28 h-8.50 M401.50,384.48 h4.30 M684.50,384.48 h-4.30 M401.50,378.67 h4.30 M684.50,378.67 h-4.30 M401.50,372.87 h4.30 M684.50,372.87 h-4.30 M401.50,367.06 h4.30 M684.50,367.06 h-4.30 M401.50,361.26 h8.50 M684.50,361.26 h-8.50 M401.50,355.46 h4.30 M684.50,355.46 h-4.30 M401.50,349.65 h4.30 M684.50,349.65 h-4.30 M401.50,343.85 h4.30 M684.50,343.85 h-4.30 M401.50,338.04 h4.30 M684.50,338.04 h-4.30 M401.50,332.24 h8.50 M684.50,332.24 h-8.50 M401.50,326.44 h4.30 M684.50,326.44 h-4.30 M401.50,320.63 h4.30 M684.50,320.63 h-4.30 M401.50,314.83 h4.30 M684.50,314.83 h-4.30 M401.50,309.02 h4.30 M684.50,309.02 h-4.30 M401.50,303.22 h8.50 M684.50,303.22 h-8.50 M401.50,297.42 h4.30 M684.50,297.42 h-4.30 M401.50,291.61 h4.30 M684.50,291.61 h-4.30" stroke="#111" stroke-width="0.8" fill="none"/>
<rect x="401.50" y="291.50" width="283.00" height="203.50" fill="none" stroke="#111" stroke-width="0.95"/>
<text x="399.70" y="307.52" font-size="12.1" text-anchor="end">0.4</text>
<text x="399.70" y="336.54" font-size="12.1" text-anchor="end">0.3</text>
<text x="399.70" y="365.56" font-size="12.1" text-anchor="end">0.2</text>
<text x="399.70" y="394.58" font-size="12.1" text-anchor="end">0.1</text>
<text x="399.70" y="423.60" font-size="12.1" text-anchor="end">0</text>
<text x="399.70" y="452.62" font-size="12.1" text-anchor="end">−0.1</text>
<text x="399.70" y="481.64" font-size="12.1" text-anchor="end">−0.2</text>
<text x="401.50" y="506.75" font-size="12.1" text-anchor="middle">0</text>
<text x="443.12" y="506.75" font-size="12.1" text-anchor="middle">0.5</text>
<text x="484.74" y="506.75" font-size="12.1" text-anchor="middle">1</text>
<text x="526.35" y="506.75" font-size="12.1" text-anchor="middle">1.5</text>
<text x="567.97" y="506.75" font-size="12.1" text-anchor="middle">2</text>
<text x="609.59" y="506.75" font-size="12.1" text-anchor="middle">2.5</text>
<text x="651.21" y="506.75" font-size="12.1" text-anchor="middle">3</text>
<text transform="translate(364.50,291.70) rotate(-90)" font-size="12.1" text-anchor="end">Relative uncertainty</text>
<text x="685.10" y="524.30" font-size="12" text-anchor="end">|y<tspan font-size="7.6" dy="6.6">jet</tspan><tspan dy="-6.6">|</tspan></text>
<text x="418.80" y="309.90" font-size="9.4">Z(</text>
<text x="437.10" y="309.90" font-size="9.4">ee) + jets NLO (CT14 PDF)</text>
<path d="M428.00,307.60 H436.70 M434.50,306.20 L436.70,307.60 L434.50,309.00" stroke="#000" stroke-width="0.6" fill="none"/>
<clipPath id="cl3"><rect x="420.30" y="317.40" width="24.00" height="12.90"/></clipPath>
<path clip-path="url(#cl3)" d="M420.30,328.96L421.64,330.30M420.30,324.33L426.27,330.30M420.30,319.70L430.90,330.30M422.63,317.40L435.53,330.30M427.26,317.40L440.16,330.30M431.89,317.40L444.30,329.81M436.52,317.40L444.30,325.18M441.15,317.40L444.30,320.55" stroke="#ff0000" stroke-width="0.95" stroke-opacity="0.84" fill="none"/>
<rect x="420.30" y="335.50" width="24.00" height="12.90" fill="#5a52d6"/>
<rect x="420.30" y="353.60" width="24.00" height="12.90" fill="url(#ha)"/>
<text x="449.70" y="327.20" font-size="9.4">Scale uncertainty</text>
<text x="449.70" y="345.30" font-size="9.4">PDF uncertainty</text>
<text x="449.70" y="363.40" font-size="9.4"><tspan class="s" font-size="10.5">α</tspan><tspan font-size="6" dy="2.2">s</tspan><tspan dy="-2.2"> uncertainty</tspan></text>
<rect x="539.70" y="317.40" width="24.00" height="12.90" fill="#ccffff"/>
<rect x="539.70" y="335.50" width="24.00" height="12.90" fill="#99cccc" stroke="#000" stroke-width="1" stroke-dasharray="1.6 1.9" />
<text x="568.10" y="327.20" font-size="9.4" textLength="98.3" lengthAdjust="spacingAndGlyphs">Total pQCD uncertainty</text>
<text x="568.10" y="345.30" font-size="9.4" textLength="98.6" lengthAdjust="spacingAndGlyphs">Total theory uncertainty</text>
<path d="M416.60,464.10 l0.9,-0.5 l1.1,5.2 l1.5,-8.2 h5.6" stroke="#000" stroke-width="0.85" fill="none"/>
<text x="420.40" y="469.10" font-size="9.6">s=8 TeV</text>
<text x="415.80" y="481.90" font-size="9.6">anti-k<tspan font-size="7" dy="3.4">t</tspan><tspan dy="-3.4"> </tspan><tspan font-style="italic">R</tspan>=0.4</text>
<text x="483.40" y="481.90" font-size="9.6">200 GeV&lt;p<tspan font-size="7" dy="3.6">T</tspan><tspan font-size="7" dy="-8.8" dx="-4.3">jet</tspan><tspan dy="5.2" dx="-2.1">&lt;300 GeV</tspan></text>
<text class="s" x="434.55" y="553.10" font-size="13.50" font-weight="bold">(d)</text>
<text class="s" x="455.35" y="553.10" font-size="13.50" >200</text>
<text class="s" x="479.40" y="553.10" font-size="13.50" >GeV</text>
<text class="s" x="508.50" y="553.70" font-size="15.50" >&lt;</text>
<text class="s" x="521.90" y="553.10" font-size="13.50" font-style="italic">p</text>
<text class="s" x="530.30" y="558.60" font-size="10.30" >T</text>
<text class="s" x="530.30" y="545.30" font-size="10.30" >jet</text>
<text class="s" x="546.10" y="553.70" font-size="15.50" >&lt;</text>
<text class="s" x="560.30" y="553.10" font-size="13.50" >300</text>
<text class="s" x="584.85" y="553.10" font-size="13.50" >GeV</text>
</g>
<g>
<path d="M47.50,658.75 L85.23,658.75 L85.23,658.64 L122.97,658.64 L122.97,657.66 L160.70,657.66 L160.70,654.45 L198.43,654.45 L198.43,649.70 L236.17,649.70 L236.17,639.36 L330.50,639.36 L330.50,753.11 L236.17,753.11 L236.17,746.96 L198.43,746.96 L198.43,743.33 L160.70,743.33 L160.70,741.93 L122.97,741.93 L122.97,741.15 L85.23,741.15 L85.23,741.09 L47.50,741.09Z" fill="#99cccc"/>
<path d="M47.50,659.03 L85.23,659.03 L85.23,658.92 L122.97,658.92 L122.97,657.94 L160.70,657.94 L160.70,654.73 L198.43,654.73 L198.43,649.98 L236.17,649.98 L236.17,639.64 L330.50,639.64 L330.50,752.83 L236.17,752.83 L236.17,746.68 L198.43,746.68 L198.43,743.05 L160.70,743.05 L160.70,741.65 L122.97,741.65 L122.97,740.87 L85.23,740.87 L85.23,740.81 L47.50,740.81Z" fill="#ccffff"/>
<path d="M47.50,696.65 L85.23,696.65 L85.23,696.65 L122.97,696.65 L122.97,696.51 L160.70,696.51 L160.70,696.09 L198.43,696.09 L198.43,694.42 L236.17,694.42 L236.17,690.06 L330.50,690.06 L330.50,713.70 L236.17,713.70 L236.17,710.91 L198.43,710.91 L198.43,709.79 L160.70,709.79 L160.70,709.93 L122.97,709.93 L122.97,710.91 L85.23,710.91 L85.23,710.91 L47.50,710.91Z" fill="#5a52d6"/>
<path d="M47.50,700.01 L85.23,700.01 L85.23,700.01 L122.97,700.01 L122.97,700.01 L160.70,700.01 L160.70,700.01 L198.43,700.01 L198.43,700.43 L236.17,700.43 L236.17,700.57 L330.50,700.57 L330.50,707.55 L236.17,707.55 L236.17,707.55 L198.43,707.55 L198.43,707.55 L160.70,707.55 L160.70,707.55 L122.97,707.55 L122.97,707.55 L85.23,707.55 L85.23,707.55 L47.50,707.55Z" fill="url(#hb)"/>
<clipPath id="cs4"><path d="M47.50,659.87 L85.23,659.87 L85.23,659.76 L122.97,659.76 L122.97,658.78 L160.70,658.78 L160.70,655.57 L198.43,655.57 L198.43,650.82 L236.17,650.82 L236.17,640.47 L330.50,640.47 L330.50,751.99 L236.17,751.99 L236.17,745.85 L198.43,745.85 L198.43,742.21 L160.70,742.21 L160.70,740.81 L122.97,740.81 L122.97,740.03 L85.23,740.03 L85.23,739.98 L47.50,739.98Z"/></clipPath>
<path clip-path="url(#cs4)" d="M47.50,750.49L50.00,752.99M47.50,745.86L54.63,752.99M47.50,741.23L59.26,752.99M47.50,736.60L63.89,752.99M47.50,731.97L68.52,752.99M47.50,727.34L73.15,752.99M47.50,722.71L77.78,752.99M47.50,718.08L82.41,752.99M47.50,713.45L87.04,752.99M47.50,708.82L91.67,752.99M47.50,704.19L96.30,752.99M47.50,699.56L100.93,752.99M47.50,694.93L105.56,752.99M47.50,690.30L110.19,752.99M47.50,685.67L114.82,752.99M47.50,681.04L119.45,752.99M47.50,676.41L124.08,752.99M47.50,671.78L128.71,752.99M47.50,667.15L133.34,752.99M47.50,662.52L137.97,752.99M47.50,657.89L142.60,752.99M47.50,653.26L147.23,752.99M47.50,648.63L151.86,752.99M47.50,644.00L156.49,752.99M47.60,639.47L161.12,752.99M52.23,639.47L165.75,752.99M56.86,639.47L170.38,752.99M61.49,639.47L175.01,752.99M66.12,639.47L179.64,752.99M70.75,639.47L184.27,752.99M75.38,639.47L188.90,752.99M80.01,639.47L193.53,752.99M84.64,639.47L198.16,752.99M89.27,639.47L202.79,752.99M93.90,639.47L207.42,752.99M98.53,639.47L212.05,752.99M103.16,639.47L216.68,752.99M107.79,639.47L221.31,752.99M112.42,639.47L225.94,752.99M117.05,639.47L230.57,752.99M121.68,639.47L235.20,752.99M126.31,639.47L239.83,752.99M130.94,639.47L244.46,752.99M135.57,639.47L249.09,752.99M140.20,639.47L253.72,752.99M144.83,639.47L258.35,752.99M149.46,639.47L262.98,752.99M154.09,639.47L267.61,752.99M158.72,639.47L272.24,752.99M163.35,639.47L276.87,752.99M167.98,639.47L281.50,752.99M172.61,639.47L286.13,752.99M177.24,639.47L290.76,752.99M181.87,639.47L295.39,752.99M186.50,639.47L300.02,752.99M191.13,639.47L304.65,752.99M195.76,639.47L309.28,752.99M200.39,639.47L313.91,752.99M205.02,639.47L318.54,752.99M209.65,639.47L323.17,752.99M214.28,639.47L327.80,752.99M218.91,639.47L330.50,751.06M223.54,639.47L330.50,746.43M228.17,639.47L330.50,741.80M232.80,639.47L330.50,737.17M237.43,639.47L330.50,732.54M242.06,639.47L330.50,727.91M246.69,639.47L330.50,723.28M251.32,639.47L330.50,718.65M255.95,639.47L330.50,714.02M260.58,639.47L330.50,709.39M265.21,639.47L330.50,704.76M269.84,639.47L330.50,700.13M274.47,639.47L330.50,695.50M279.10,639.47L330.50,690.87M283.73,639.47L330.50,686.24M288.36,639.47L330.50,681.61M292.99,639.47L330.50,676.98M297.62,639.47L330.50,672.35M302.25,639.47L330.50,667.72M306.88,639.47L330.50,663.09M311.51,639.47L330.50,658.46M316.14,639.47L330.50,653.83M320.77,639.47L330.50,649.20M325.40,639.47L330.50,644.57M330.03,639.47L330.50,639.94" stroke="#ff0000" stroke-width="0.95" stroke-opacity="0.84" fill="none"/>
<path d="M47.50,658.75 L85.23,658.75 L85.23,658.64 L122.97,658.64 L122.97,657.66 L160.70,657.66 L160.70,654.45 L198.43,654.45 L198.43,649.70 L236.17,649.70 L236.17,639.36 L330.50,639.36" stroke="#000" stroke-width="1" stroke-dasharray="1.6 1.9" fill="none"/>
<path d="M47.50,741.09 L85.23,741.09 L85.23,741.15 L122.97,741.15 L122.97,741.93 L160.70,741.93 L160.70,743.33 L198.43,743.33 L198.43,746.96 L236.17,746.96 L236.17,753.11 L330.50,753.11" stroke="#000" stroke-width="1" stroke-dasharray="1.6 1.9" fill="none"/>
<path d="M47.50,779.40 v-5.80 M47.50,575.90 v5.80 M56.93,779.40 v-3.00 M56.93,575.90 v3.00 M66.37,779.40 v-3.00 M66.37,575.90 v3.00 M75.80,779.40 v-3.00 M75.80,575.90 v3.00 M85.23,779.40 v-3.00 M85.23,575.90 v3.00 M94.67,779.40 v-5.80 M94.67,575.90 v5.80 M104.10,779.40 v-3.00 M104.10,575.90 v3.00 M113.53,779.40 v-3.00 M113.53,575.90 v3.00 M122.97,779.40 v-3.00 M122.97,575.90 v3.00 M132.40,779.40 v-3.00 M132.40,575.90 v3.00 M141.83,779.40 v-5.80 M141.83,575.90 v5.80 M151.27,779.40 v-3.00 M151.27,575.90 v3.00 M160.70,779.40 v-3.00 M160.70,575.90 v3.00 M170.13,779.40 v-3.00 M170.13,575.90 v3.00 M179.57,779.40 v-3.00 M179.57,575.90 v3.00 M189.00,779.40 v-5.80 M189.00,575.90 v5.80 M198.43,779.40 v-3.00 M198.43,575.90 v3.00 M207.87,779.40 v-3.00 M207.87,575.90 v3.00 M217.30,779.40 v-3.00 M217.30,575.90 v3.00 M226.73,779.40 v-3.00 M226.73,575.90 v3.00 M236.17,779.40 v-5.80 M236.17,575.90 v5.80 M245.60,779.40 v-3.00 M245.60,575.90 v3.00 M255.03,779.40 v-3.00 M255.03,575.90 v3.00 M264.47,779.40 v-3.00 M264.47,575.90 v3.00 M273.90,779.40 v-3.00 M273.90,575.90 v3.00 M283.33,779.40 v-5.80 M283.33,575.90 v5.80 M292.77,779.40 v-3.00 M292.77,575.90 v3.00 M302.20,779.40 v-3.00 M302.20,575.90 v3.00 M311.63,779.40 v-3.00 M311.63,575.90 v3.00 M321.07,779.40 v-3.00 M321.07,575.90 v3.00 M330.50,779.40 v-5.80 M330.50,575.90 v5.80 M47.50,776.87 h4.30 M330.50,776.87 h-4.30 M47.50,771.28 h4.30 M330.50,771.28 h-4.30 M47.50,765.69 h4.30 M330.50,765.69 h-4.30 M47.50,760.10 h8.50 M330.50,760.10 h-8.50 M47.50,754.51 h4.30 M330.50,754.51 h-4.30 M47.50,748.92 h4.30 M330.50,748.92 h-4.30 M47.50,743.33 h4.30 M330.50,743.33 h-4.30 M47.50,737.74 h4.30 M330.50,737.74 h-4.30 M47.50,732.15 h8.50 M330.50,732.15 h-8.50 M47.50,726.56 h4.30 M330.50,726.56 h-4.30 M47.50,720.97 h4.30 M330.50,720.97 h-4.30 M47.50,715.38 h4.30 M330.50,715.38 h-4.30 M47.50,709.79 h4.30 M330.50,709.79 h-4.30 M47.50,704.20 h8.50 M330.50,704.20 h-8.50 M47.50,698.61 h4.30 M330.50,698.61 h-4.30 M47.50,693.02 h4.30 M330.50,693.02 h-4.30 M47.50,687.43 h4.30 M330.50,687.43 h-4.30 M47.50,681.84 h4.30 M330.50,681.84 h-4.30 M47.50,676.25 h8.50 M330.50,676.25 h-8.50 M47.50,670.66 h4.30 M330.50,670.66 h-4.30 M47.50,665.07 h4.30 M330.50,665.07 h-4.30 M47.50,659.48 h4.30 M330.50,659.48 h-4.30 M47.50,653.89 h4.30 M330.50,653.89 h-4.30 M47.50,648.30 h8.50 M330.50,648.30 h-8.50 M47.50,642.71 h4.30 M330.50,642.71 h-4.30 M47.50,637.12 h4.30 M330.50,637.12 h-4.30 M47.50,631.53 h4.30 M330.50,631.53 h-4.30 M47.50,625.94 h4.30 M330.50,625.94 h-4.30 M47.50,620.35 h8.50 M330.50,620.35 h-8.50 M47.50,614.76 h4.30 M330.50,614.76 h-4.30 M47.50,609.17 h4.30 M330.50,609.17 h-4.30 M47.50,603.58 h4.30 M330.50,603.58 h-4.30 M47.50,597.99 h4.30 M330.50,597.99 h-4.30 M47.50,592.40 h8.50 M330.50,592.40 h-8.50 M47.50,586.81 h4.30 M330.50,586.81 h-4.30 M47.50,581.22 h4.30 M330.50,581.22 h-4.30" stroke="#111" stroke-width="0.8" fill="none"/>
<rect x="47.50" y="575.90" width="283.00" height="203.50" fill="none" stroke="#111" stroke-width="0.95"/>
<text x="45.70" y="596.70" font-size="12.1" text-anchor="end">0.4</text>
<text x="45.70" y="624.65" font-size="12.1" text-anchor="end">0.3</text>
<text x="45.70" y="652.60" font-size="12.1" text-anchor="end">0.2</text>
<text x="45.70" y="680.55" font-size="12.1" text-anchor="end">0.1</text>
<text x="45.70" y="708.50" font-size="12.1" text-anchor="end">0</text>
<text x="45.70" y="736.45" font-size="12.1" text-anchor="end">−0.1</text>
<text x="45.70" y="764.40" font-size="12.1" text-anchor="end">−0.2</text>
<text x="47.50" y="791.15" font-size="12.1" text-anchor="middle">0</text>
<text x="94.67" y="791.15" font-size="12.1" text-anchor="middle">0.5</text>
<text x="141.83" y="791.15" font-size="12.1" text-anchor="middle">1</text>
<text x="189.00" y="791.15" font-size="12.1" text-anchor="middle">1.5</text>
<text x="236.17" y="791.15" font-size="12.1" text-anchor="middle">2</text>
<text x="283.33" y="791.15" font-size="12.1" text-anchor="middle">2.5</text>
<text x="330.50" y="791.15" font-size="12.1" text-anchor="middle">3</text>
<text transform="translate(10.50,576.10) rotate(-90)" font-size="12.1" text-anchor="end">Relative uncertainty</text>
<text x="331.10" y="808.70" font-size="12" text-anchor="end">|y<tspan font-size="7.6" dy="6.6">jet</tspan><tspan dy="-6.6">|</tspan></text>
<text x="64.80" y="594.30" font-size="9.4">Z(</text>
<text x="83.10" y="594.30" font-size="9.4">ee) + jets NLO (CT14 PDF)</text>
<path d="M74.00,592.00 H82.70 M80.50,590.60 L82.70,592.00 L80.50,593.40" stroke="#000" stroke-width="0.6" fill="none"/>
<clipPath id="cl4"><rect x="66.80" y="601.80" width="24.00" height="12.90"/></clipPath>
<path clip-path="url(#cl4)" d="M66.80,611.74L69.76,614.70M66.80,607.11L74.39,614.70M66.80,602.48L79.02,614.70M70.75,601.80L83.65,614.70M75.38,601.80L88.28,614.70M80.01,601.80L90.80,612.59M84.64,601.80L90.80,607.96M89.27,601.80L90.80,603.33" stroke="#ff0000" stroke-width="0.95" stroke-opacity="0.84" fill="none"/>
<rect x="66.80" y="619.90" width="24.00" height="12.90" fill="#5a52d6"/>
<rect x="66.80" y="638.00" width="24.00" height="12.90" fill="url(#ha)"/>
<text x="95.70" y="611.60" font-size="9.4">Scale uncertainty</text>
<text x="95.70" y="629.70" font-size="9.4">PDF uncertainty</text>
<text x="95.70" y="647.80" font-size="9.4"><tspan class="s" font-size="10.5">α</tspan><tspan font-size="6" dy="2.2">s</tspan><tspan dy="-2.2"> uncertainty</tspan></text>
<rect x="185.70" y="601.80" width="24.00" height="12.90" fill="#ccffff"/>
<rect x="185.70" y="619.90" width="24.00" height="12.90" fill="#99cccc" stroke="#000" stroke-width="1" stroke-dasharray="1.6 1.9" />
<text x="214.10" y="611.60" font-size="9.4" textLength="98.3" lengthAdjust="spacingAndGlyphs">Total pQCD uncertainty</text>
<text x="214.10" y="629.70" font-size="9.4" textLength="98.6" lengthAdjust="spacingAndGlyphs">Total theory uncertainty</text>
<path d="M62.60,748.50 l0.9,-0.5 l1.1,5.2 l1.5,-8.2 h5.6" stroke="#000" stroke-width="0.85" fill="none"/>
<text x="66.40" y="753.50" font-size="9.6">s=8 TeV</text>
<text x="61.80" y="766.30" font-size="9.6">anti-k<tspan font-size="7" dy="3.4">t</tspan><tspan dy="-3.4"> </tspan><tspan font-style="italic">R</tspan>=0.4</text>
<text x="129.40" y="766.30" font-size="9.6">300 GeV&lt;p<tspan font-size="7" dy="3.6">T</tspan><tspan font-size="7" dy="-8.8" dx="-4.3">jet</tspan><tspan dy="5.2" dx="-2.1">&lt;400 GeV</tspan></text>
<text class="s" x="80.55" y="837.50" font-size="13.50" font-weight="bold">(e)</text>
<text class="s" x="101.35" y="837.50" font-size="13.50" >300</text>
<text class="s" x="125.40" y="837.50" font-size="13.50" >GeV</text>
<text class="s" x="154.50" y="838.10" font-size="15.50" >&lt;</text>
<text class="s" x="167.90" y="837.50" font-size="13.50" font-style="italic">p</text>
<text class="s" x="176.30" y="843.00" font-size="10.30" >T</text>
<text class="s" x="176.30" y="829.70" font-size="10.30" >jet</text>
<text class="s" x="192.10" y="838.10" font-size="15.50" >&lt;</text>
<text class="s" x="206.30" y="837.50" font-size="13.50" >400</text>
<text class="s" x="230.85" y="837.50" font-size="13.50" >GeV</text>
</g>
<g>
<path d="M401.50,657.22 L445.04,657.22 L445.04,656.66 L488.58,656.66 L488.58,654.59 L532.12,654.59 L532.12,648.47 L684.50,648.47 L684.50,746.57 L532.12,746.57 L532.12,742.68 L488.58,742.68 L488.58,741.46 L445.04,741.46 L445.04,741.10 L401.50,741.10Z" fill="#99cccc"/>
<path d="M401.50,657.46 L445.04,657.46 L445.04,656.90 L488.58,656.90 L488.58,654.84 L532.12,654.84 L532.12,648.71 L684.50,648.71 L684.50,746.32 L532.12,746.32 L532.12,742.44 L488.58,742.44 L488.58,741.22 L445.04,741.22 L445.04,740.86 L401.50,740.86Z" fill="#ccffff"/>
<path d="M401.50,695.54 L445.04,695.54 L445.04,695.54 L488.58,695.54 L488.58,695.42 L532.12,695.42 L532.12,693.35 L684.50,693.35 L684.50,711.96 L532.12,711.96 L532.12,710.97 L488.58,710.97 L488.58,710.85 L445.04,710.85 L445.04,710.85 L401.50,710.85Z" fill="#5a52d6"/>
<path d="M401.50,701.47 L445.04,701.47 L445.04,701.47 L488.58,701.47 L488.58,701.47 L532.12,701.47 L532.12,701.47 L684.50,701.47 L684.50,706.47 L532.12,706.47 L532.12,706.47 L488.58,706.47 L488.58,706.47 L445.04,706.47 L445.04,706.47 L401.50,706.47Z" fill="url(#hb)"/>
<clipPath id="cs5"><path d="M401.50,658.19 L445.04,658.19 L445.04,657.63 L488.58,657.63 L488.58,655.56 L532.12,655.56 L532.12,649.44 L684.50,649.44 L684.50,745.60 L532.12,745.60 L532.12,741.71 L488.58,741.71 L488.58,740.49 L445.04,740.49 L445.04,740.13 L401.50,740.13Z"/></clipPath>
<path clip-path="url(#cs5)" d="M401.50,743.06L405.04,746.60M401.50,738.43L409.67,746.60M401.50,733.80L414.30,746.60M401.50,729.17L418.93,746.60M401.50,724.54L423.56,746.60M401.50,719.91L428.19,746.60M401.50,715.28L432.82,746.60M401.50,710.65L437.45,746.60M401.50,706.02L442.08,746.60M401.50,701.39L446.71,746.60M401.50,696.76L451.34,746.60M401.50,692.13L455.97,746.60M401.50,687.50L460.60,746.60M401.50,682.87L465.23,746.60M401.50,678.24L469.86,746.60M401.50,673.61L474.49,746.60M401.50,668.98L479.12,746.60M401.50,664.35L483.75,746.60M401.50,659.72L488.38,746.60M401.50,655.09L493.01,746.60M401.50,650.46L497.64,746.60M404.11,648.44L502.27,746.60M408.74,648.44L506.90,746.60M413.37,648.44L511.53,746.60M418.00,648.44L516.16,746.60M422.63,648.44L520.79,746.60M427.26,648.44L525.42,746.60M431.89,648.44L530.05,746.60M436.52,648.44L534.68,746.60M441.15,648.44L539.31,746.60M445.78,648.44L543.94,746.60M450.41,648.44L548.57,746.60M455.04,648.44L553.20,746.60M459.67,648.44L557.83,746.60M464.30,648.44L562.46,746.60M468.93,648.44L567.09,746.60M473.56,648.44L571.72,746.60M478.19,648.44L576.35,746.60M482.82,648.44L580.98,746.60M487.45,648.44L585.61,746.60M492.08,648.44L590.24,746.60M496.71,648.44L594.87,746.60M501.34,648.44L599.50,746.60M505.97,648.44L604.13,746.60M510.60,648.44L608.76,746.60M515.23,648.44L613.39,746.60M519.86,648.44L618.02,746.60M524.49,648.44L622.65,746.60M529.12,648.44L627.28,746.60M533.75,648.44L631.91,746.60M538.38,648.44L636.54,746.60M543.01,648.44L641.17,746.60M547.64,648.44L645.80,746.60M552.27,648.44L650.43,746.60M556.90,648.44L655.06,746.60M561.53,648.44L659.69,746.60M566.16,648.44L664.32,746.60M570.79,648.44L668.95,746.60M575.42,648.44L673.58,746.60M580.05,648.44L678.21,746.60M584.68,648.44L682.84,746.60M589.31,648.44L684.50,743.63M593.94,648.44L684.50,739.00M598.57,648.44L684.50,734.37M603.20,648.44L684.50,729.74M607.83,648.44L684.50,725.11M612.46,648.44L684.50,720.48M617.09,648.44L684.50,715.85M621.72,648.44L684.50,711.22M626.35,648.44L684.50,706.59M630.98,648.44L684.50,701.96M635.61,648.44L684.50,697.33M640.24,648.44L684.50,692.70M644.87,648.44L684.50,688.07M649.50,648.44L684.50,683.44M654.13,648.44L684.50,678.81M658.76,648.44L684.50,674.18M663.39,648.44L684.50,669.55M668.02,648.44L684.50,664.92M672.65,648.44L684.50,660.29M677.28,648.44L684.50,655.66M681.91,648.44L684.50,651.03" stroke="#ff0000" stroke-width="0.95" stroke-opacity="0.84" fill="none"/>
<path d="M401.50,657.22 L445.04,657.22 L445.04,656.66 L488.58,656.66 L488.58,654.59 L532.12,654.59 L532.12,648.47 L684.50,648.47" stroke="#000" stroke-width="1" stroke-dasharray="1.6 1.9" fill="none"/>
<path d="M401.50,741.10 L445.04,741.10 L445.04,741.46 L488.58,741.46 L488.58,742.68 L532.12,742.68 L532.12,746.57 L684.50,746.57" stroke="#000" stroke-width="1" stroke-dasharray="1.6 1.9" fill="none"/>
<path d="M401.50,779.40 v-5.80 M401.50,575.90 v5.80 M412.38,779.40 v-3.00 M412.38,575.90 v3.00 M423.27,779.40 v-3.00 M423.27,575.90 v3.00 M434.15,779.40 v-3.00 M434.15,575.90 v3.00 M445.04,779.40 v-3.00 M445.04,575.90 v3.00 M455.92,779.40 v-5.80 M455.92,575.90 v5.80 M466.81,779.40 v-3.00 M466.81,575.90 v3.00 M477.69,779.40 v-3.00 M477.69,575.90 v3.00 M488.58,779.40 v-3.00 M488.58,575.90 v3.00 M499.46,779.40 v-3.00 M499.46,575.90 v3.00 M510.35,779.40 v-5.80 M510.35,575.90 v5.80 M521.23,779.40 v-3.00 M521.23,575.90 v3.00 M532.12,779.40 v-3.00 M532.12,575.90 v3.00 M543.00,779.40 v-3.00 M543.00,575.90 v3.00 M553.88,779.40 v-3.00 M553.88,575.90 v3.00 M564.77,779.40 v-5.80 M564.77,575.90 v5.80 M575.65,779.40 v-3.00 M575.65,575.90 v3.00 M586.54,779.40 v-3.00 M586.54,575.90 v3.00 M597.42,779.40 v-3.00 M597.42,575.90 v3.00 M608.31,779.40 v-3.00 M608.31,575.90 v3.00 M619.19,779.40 v-5.80 M619.19,575.90 v5.80 M630.08,779.40 v-3.00 M630.08,575.90 v3.00 M640.96,779.40 v-3.00 M640.96,575.90 v3.00 M651.85,779.40 v-3.00 M651.85,575.90 v3.00 M662.73,779.40 v-3.00 M662.73,575.90 v3.00 M673.62,779.40 v-5.80 M673.62,575.90 v5.80 M684.50,779.40 v-3.00 M684.50,575.90 v3.00 M401.50,776.89 h8.50 M684.50,776.89 h-8.50 M401.50,772.04 h4.30 M684.50,772.04 h-4.30 M401.50,767.20 h4.30 M684.50,767.20 h-4.30 M401.50,762.35 h4.30 M684.50,762.35 h-4.30 M401.50,757.51 h4.30 M684.50,757.51 h-4.30 M401.50,752.66 h8.50 M684.50,752.66 h-8.50 M401.50,747.81 h4.30 M684.50,747.81 h-4.30 M401.50,742.97 h4.30 M684.50,742.97 h-4.30 M401.50,738.12 h4.30 M684.50,738.12 h-4.30 M401.50,733.28 h4.30 M684.50,733.28 h-4.30 M401.50,728.43 h8.50 M684.50,728.43 h-8.50 M401.50,723.58 h4.30 M684.50,723.58 h-4.30 M401.50,718.74 h4.30 M684.50,718.74 h-4.30 M401.50,713.89 h4.30 M684.50,713.89 h-4.30 M401.50,709.05 h4.30 M684.50,709.05 h-4.30 M401.50,704.20 h8.50 M684.50,704.20 h-8.50 M401.50,699.35 h4.30 M684.50,699.35 h-4.30 M401.50,694.51 h4.30 M684.50,694.51 h-4.30 M401.50,689.66 h4.30 M684.50,689.66 h-4.30 M401.50,684.82 h4.30 M684.50,684.82 h-4.30 M401.50,679.97 h8.50 M684.50,679.97 h-8.50 M401.50,675.12 h4.30 M684.50,675.12 h-4.30 M401.50,670.28 h4.30 M684.50,670.28 h-4.30 M401.50,665.43 h4.30 M684.50,665.43 h-4.30 M401.50,660.59 h4.30 M684.50,660.59 h-4.30 M401.50,655.74 h8.50 M684.50,655.74 h-8.50 M401.50,650.89 h4.30 M684.50,650.89 h-4.30 M401.50,646.05 h4.30 M684.50,646.05 h-4.30 M401.50,641.20 h4.30 M684.50,641.20 h-4.30 M401.50,636.36 h4.30 M684.50,636.36 h-4.30 M401.50,631.51 h8.50 M684.50,631.51 h-8.50 M401.50,626.66 h4.30 M684.50,626.66 h-4.30 M401.50,621.82 h4.30 M684.50,621.82 h-4.30 M401.50,616.97 h4.30 M684.50,616.97 h-4.30 M401.50,612.13 h4.30 M684.50,612.13 h-4.30 M401.50,607.28 h8.50 M684.50,607.28 h-8.50 M401.50,602.43 h4.30 M684.50,602.43 h-4.30 M401.50,597.59 h4.30 M684.50,597.59 h-4.30 M401.50,592.74 h4.30 M684.50,592.74 h-4.30 M401.50,587.90 h4.30 M684.50,587.90 h-4.30 M401.50,583.05 h8.50 M684.50,583.05 h-8.50 M401.50,578.20 h4.30 M684.50,578.20 h-4.30" stroke="#111" stroke-width="0.8" fill="none"/>
<rect x="401.50" y="575.90" width="283.00" height="203.50" fill="none" stroke="#111" stroke-width="0.95"/>
<text x="399.70" y="587.35" font-size="12.1" text-anchor="end">0.5</text>
<text x="399.70" y="611.58" font-size="12.1" text-anchor="end">0.4</text>
<text x="399.70" y="635.81" font-size="12.1" text-anchor="end">0.3</text>
<text x="399.70" y="660.04" font-size="12.1" text-anchor="end">0.2</text>
<text x="399.70" y="684.27" font-size="12.1" text-anchor="end">0.1</text>
<text x="399.70" y="708.50" font-size="12.1" text-anchor="end">0</text>
<text x="399.70" y="732.73" font-size="12.1" text-anchor="end">−0.1</text>
<text x="399.70" y="756.96" font-size="12.1" text-anchor="end">−0.2</text>
<text x="399.70" y="781.19" font-size="12.1" text-anchor="end">−0.3</text>
<text x="401.50" y="791.15" font-size="12.1" text-anchor="middle">0</text>
<text x="455.92" y="791.15" font-size="12.1" text-anchor="middle">0.5</text>
<text x="510.35" y="791.15" font-size="12.1" text-anchor="middle">1</text>
<text x="564.77" y="791.15" font-size="12.1" text-anchor="middle">1.5</text>
<text x="619.19" y="791.15" font-size="12.1" text-anchor="middle">2</text>
<text x="673.62" y="791.15" font-size="12.1" text-anchor="middle">2.5</text>
<text transform="translate(364.50,576.10) rotate(-90)" font-size="12.1" text-anchor="end">Relative uncertainty</text>
<text x="685.10" y="808.70" font-size="12" text-anchor="end">|y<tspan font-size="7.6" dy="6.6">jet</tspan><tspan dy="-6.6">|</tspan></text>
<text x="418.80" y="594.30" font-size="9.4">Z(</text>
<text x="437.10" y="594.30" font-size="9.4">ee) + jets NLO (CT14 PDF)</text>
<path d="M428.00,592.00 H436.70 M434.50,590.60 L436.70,592.00 L434.50,593.40" stroke="#000" stroke-width="0.6" fill="none"/>
<clipPath id="cl5"><rect x="420.30" y="601.80" width="24.00" height="12.90"/></clipPath>
<path clip-path="url(#cl5)" d="M420.30,613.36L421.64,614.70M420.30,608.73L426.27,614.70M420.30,604.10L430.90,614.70M422.63,601.80L435.53,614.70M427.26,601.80L440.16,614.70M431.89,601.80L444.30,614.21M436.52,601.80L444.30,609.58M441.15,601.80L444.30,604.95" stroke="#ff0000" stroke-width="0.95" stroke-opacity="0.84" fill="none"/>
<rect x="420.30" y="619.90" width="24.00" height="12.90" fill="#5a52d6"/>
<rect x="420.30" y="638.00" width="24.00" height="12.90" fill="url(#ha)"/>
<text x="449.70" y="611.60" font-size="9.4">Scale uncertainty</text>
<text x="449.70" y="629.70" font-size="9.4">PDF uncertainty</text>
<text x="449.70" y="647.80" font-size="9.4"><tspan class="s" font-size="10.5">α</tspan><tspan font-size="6" dy="2.2">s</tspan><tspan dy="-2.2"> uncertainty</tspan></text>
<rect x="539.70" y="601.80" width="24.00" height="12.90" fill="#ccffff"/>
<rect x="539.70" y="619.90" width="24.00" height="12.90" fill="#99cccc" stroke="#000" stroke-width="1" stroke-dasharray="1.6 1.9" />
<text x="568.10" y="611.60" font-size="9.4" textLength="98.3" lengthAdjust="spacingAndGlyphs">Total pQCD uncertainty</text>
<text x="568.10" y="629.70" font-size="9.4" textLength="98.6" lengthAdjust="spacingAndGlyphs">Total theory uncertainty</text>
<path d="M416.60,748.50 l0.9,-0.5 l1.1,5.2 l1.5,-8.2 h5.6" stroke="#000" stroke-width="0.85" fill="none"/>
<text x="420.40" y="753.50" font-size="9.6">s=8 TeV</text>
<text x="415.80" y="766.30" font-size="9.6">anti-k<tspan font-size="7" dy="3.4">t</tspan><tspan dy="-3.4"> </tspan><tspan font-style="italic">R</tspan>=0.4</text>
<text x="483.40" y="766.30" font-size="9.6">400 GeV&lt;p<tspan font-size="7" dy="3.6">T</tspan><tspan font-size="7" dy="-8.8" dx="-4.3">jet</tspan><tspan dy="5.2" dx="-2.1">&lt;1050 GeV</tspan></text>
<text class="s" x="431.17" y="837.50" font-size="13.50" font-weight="bold">(f)</text>
<text class="s" x="451.97" y="837.50" font-size="13.50" >400</text>
<text class="s" x="476.02" y="837.50" font-size="13.50" >GeV</text>
<text class="s" x="505.12" y="838.10" font-size="15.50" >&lt;</text>
<text class="s" x="518.52" y="837.50" font-size="13.50" font-style="italic">p</text>
<text class="s" x="526.92" y="843.00" font-size="10.30" >T</text>
<text class="s" x="526.92" y="829.70" font-size="10.30" >jet</text>
<text class="s" x="542.72" y="838.10" font-size="15.50" >&lt;</text>
<text class="s" x="556.92" y="837.50" font-size="13.50" >1050</text>
<text class="s" x="588.22" y="837.50" font-size="13.50" >GeV</text>
</g>
</svg>
</body></html>
